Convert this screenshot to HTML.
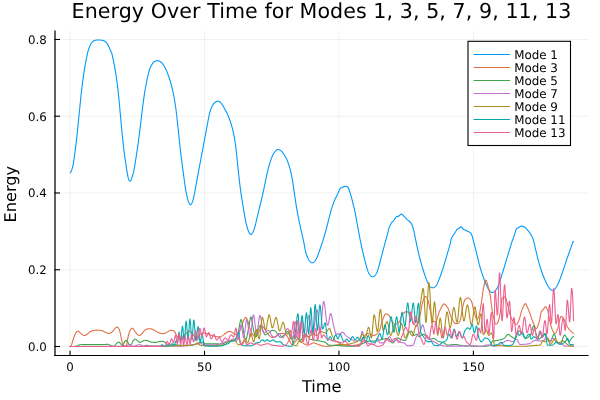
<!DOCTYPE html>
<html lang="en">
<head>
<meta charset="utf-8">
<title>Energy Over Time for Modes 1, 3, 5, 7, 9, 11, 13</title>
<style>
html,body{margin:0;padding:0;background:#fff;}
body{width:600px;height:400px;overflow:hidden;}
svg{display:block;}
text{font-family:"DejaVu Sans","Liberation Sans",sans-serif;fill:#000;text-rendering:geometricPrecision;}
.title{font-size:20.6px;letter-spacing:0.07px;}
.guide{font-size:16.2px;}
.tick{font-size:11.8px;}
.leg{font-size:11.9px;}
.grid line{stroke:#000;stroke-opacity:0.1;stroke-width:0.55;}
.axis line{stroke:#000;stroke-width:1.1;}
.series polyline{fill:none;stroke-width:1.1;stroke-linejoin:round;stroke-linecap:square;}
</style>
</head>
<body>
<svg width="600" height="400" viewBox="0 0 600 400" role="img" aria-label="Energy Over Time for Modes 1, 3, 5, 7, 9, 11, 13">
<rect x="0" y="0" width="600" height="400" fill="#ffffff"/>

<g class="grid">
<line x1="70.05" y1="30.5" x2="70.05" y2="355.5"/>
<line x1="204.50" y1="30.5" x2="204.50" y2="355.5"/>
<line x1="338.95" y1="30.5" x2="338.95" y2="355.5"/>
<line x1="473.40" y1="30.5" x2="473.40" y2="355.5"/>
<line x1="55" y1="346.50" x2="588.5" y2="346.50"/>
<line x1="55" y1="269.74" x2="588.5" y2="269.74"/>
<line x1="55" y1="192.98" x2="588.5" y2="192.98"/>
<line x1="55" y1="116.22" x2="588.5" y2="116.22"/>
<line x1="55" y1="39.46" x2="588.5" y2="39.46"/>
</g>
<g class="series">
<polyline stroke="#009AFA" points="70.40,172.80 70.80,172.17 71.20,171.34 71.60,170.35 72.00,169.20 72.40,167.89 72.80,166.30 73.20,164.32 73.60,161.97 74.00,159.41 74.40,156.64 74.80,153.70 75.20,150.60 75.60,147.43 76.00,144.12 76.40,140.64 76.80,137.08 77.20,133.42 77.60,129.62 78.00,125.63 78.41,121.60 78.81,117.56 79.21,113.52 79.61,109.51 80.01,105.51 80.41,101.52 80.81,97.55 81.21,93.75 81.61,90.20 82.01,86.82 82.41,83.58 82.81,80.49 83.21,77.56 83.61,74.78 84.01,72.11 84.41,69.57 84.81,67.17 85.21,64.89 85.61,62.72 86.01,60.66 86.41,58.69 86.81,56.76 87.21,54.87 87.61,53.08 88.01,51.42 88.41,49.97 88.81,48.74 89.21,47.65 89.61,46.64 90.01,45.66 90.41,44.76 90.81,43.98 91.21,43.32 91.61,42.74 92.01,42.24 92.41,41.83 92.81,41.48 93.21,41.17 93.61,40.89 94.02,40.68 94.42,40.53 94.82,40.40 95.22,40.28 95.62,40.18 96.02,40.12 96.42,40.07 96.82,40.04 97.22,40.01 97.62,39.99 98.02,39.97 98.42,39.97 98.82,39.97 99.22,39.98 99.62,40.00 100.02,40.03 100.42,40.06 100.82,40.10 101.22,40.14 101.62,40.19 102.02,40.25 102.42,40.34 102.82,40.44 103.22,40.55 103.62,40.68 104.02,40.84 104.42,41.05 104.82,41.30 105.22,41.58 105.62,41.88 106.02,42.24 106.42,42.67 106.82,43.17 107.22,43.74 107.62,44.36 108.02,45.04 108.42,45.80 108.82,46.64 109.23,47.54 109.63,48.45 110.03,49.35 110.43,50.24 110.83,51.12 111.23,52.00 111.63,52.91 112.03,54.16 112.43,55.92 112.83,57.85 113.23,59.71 113.63,61.59 114.03,63.55 114.43,65.62 114.83,67.84 115.23,70.16 115.63,72.56 116.03,75.09 116.43,77.80 116.83,80.68 117.23,83.71 117.63,86.91 118.03,90.35 118.43,94.07 118.83,98.11 119.23,102.29 119.63,106.53 120.03,110.82 120.43,115.16 120.83,119.56 121.23,123.99 121.63,128.36 122.03,132.59 122.43,136.60 122.83,140.41 123.23,144.08 123.63,147.58 124.03,150.89 124.43,154.02 124.84,157.00 125.24,159.86 125.64,162.64 126.04,165.37 126.44,168.01 126.84,170.54 127.24,172.94 127.64,175.23 128.04,177.20 128.44,178.72 128.84,179.89 129.24,180.75 129.64,181.22 130.04,181.28 130.44,181.04 130.84,180.43 131.24,179.49 131.64,178.43 132.04,177.26 132.44,176.00 132.84,174.66 133.24,173.28 133.64,171.70 134.04,169.72 134.44,167.46 134.84,165.07 135.24,162.64 135.64,160.19 136.04,157.70 136.44,155.15 136.84,152.52 137.24,149.81 137.64,147.02 138.04,144.16 138.44,141.23 138.84,138.20 139.24,135.06 139.64,131.81 140.04,128.53 140.45,125.22 140.85,121.89 141.25,118.52 141.65,115.15 142.05,111.81 142.45,108.56 142.85,105.43 143.25,102.38 143.65,99.41 144.05,96.60 144.45,93.93 144.85,91.39 145.25,88.99 145.65,86.73 146.05,84.56 146.45,82.49 146.85,80.54 147.25,78.69 147.65,76.89 148.05,75.14 148.45,73.48 148.85,71.92 149.25,70.50 149.65,69.25 150.05,68.17 150.45,67.23 150.85,66.40 151.25,65.63 151.65,64.92 152.05,64.27 152.45,63.69 152.85,63.17 153.25,62.70 153.65,62.27 154.05,61.90 154.45,61.60 154.85,61.35 155.25,61.14 155.66,60.97 156.06,60.84 156.46,60.75 156.86,60.69 157.26,60.67 157.66,60.70 158.06,60.75 158.46,60.84 158.86,60.95 159.26,61.10 159.66,61.29 160.06,61.50 160.46,61.74 160.86,62.03 161.26,62.35 161.66,62.71 162.06,63.12 162.46,63.57 162.86,64.06 163.26,64.60 163.66,65.19 164.06,65.83 164.46,66.51 164.86,67.24 165.26,68.02 165.66,68.85 166.06,69.71 166.46,70.61 166.86,71.56 167.26,72.55 167.66,73.57 168.06,74.63 168.46,75.73 168.86,76.86 169.26,78.04 169.66,79.26 170.06,80.53 170.46,81.86 170.86,83.24 171.27,84.67 171.67,86.20 172.07,87.80 172.47,89.45 172.87,91.22 173.27,93.11 173.67,95.09 174.07,97.24 174.47,99.55 174.87,101.99 175.27,104.54 175.67,107.27 176.07,110.23 176.47,113.51 176.87,116.99 177.27,120.57 177.67,124.25 178.07,127.99 178.47,131.82 178.87,135.68 179.27,139.52 179.67,143.27 180.07,146.92 180.47,150.47 180.87,153.91 181.27,157.24 181.67,160.48 182.07,163.63 182.47,166.68 182.87,169.65 183.27,172.61 183.67,175.57 184.07,178.52 184.47,181.46 184.87,184.38 185.27,187.21 185.67,189.64 186.07,191.77 186.47,193.80 186.88,195.74 187.28,197.52 187.68,199.15 188.08,200.56 188.48,201.75 188.88,202.75 189.28,203.57 189.68,204.18 190.08,204.55 190.48,204.68 190.88,204.54 191.28,204.16 191.68,203.53 192.08,202.67 192.48,201.65 192.88,200.45 193.28,199.03 193.68,197.46 194.08,195.74 194.48,193.75 194.88,191.50 195.28,189.21 195.68,186.98 196.08,184.77 196.48,182.57 196.88,180.39 197.28,178.22 197.68,176.06 198.08,173.92 198.48,171.78 198.88,169.64 199.28,167.51 199.68,165.38 200.08,163.25 200.48,161.12 200.88,158.99 201.28,156.86 201.68,154.73 202.09,152.59 202.49,150.46 202.89,148.32 203.29,146.17 203.69,144.03 204.09,141.89 204.49,139.74 204.89,137.60 205.29,135.46 205.69,133.32 206.09,131.19 206.49,129.06 206.89,126.93 207.29,124.82 207.69,122.72 208.09,120.61 208.49,118.54 208.89,116.49 209.29,114.59 209.69,112.93 210.09,111.48 210.49,110.21 210.89,109.08 211.29,108.06 211.69,107.12 212.09,106.26 212.49,105.47 212.89,104.76 213.29,104.15 213.69,103.65 214.09,103.24 214.49,102.86 214.89,102.52 215.29,102.20 215.69,101.93 216.09,101.70 216.49,101.51 216.89,101.36 217.29,101.24 217.70,101.17 218.10,101.16 218.50,101.21 218.90,101.33 219.30,101.52 219.70,101.79 220.10,102.12 220.50,102.52 220.90,102.94 221.30,103.40 221.70,103.90 222.10,104.45 222.50,105.06 222.90,105.71 223.30,106.38 223.70,107.07 224.10,107.77 224.50,108.49 224.90,109.21 225.30,109.95 225.70,110.71 226.10,111.47 226.50,112.25 226.90,113.04 227.30,113.86 227.70,114.70 228.10,115.58 228.50,116.54 228.90,117.56 229.30,118.62 229.70,119.71 230.10,120.83 230.50,122.02 230.90,123.27 231.30,124.57 231.70,125.92 232.10,127.39 232.50,128.94 232.90,130.56 233.31,132.31 233.71,134.22 234.11,136.23 234.51,138.45 234.91,140.91 235.31,143.64 235.71,146.63 236.11,149.86 236.51,153.32 236.91,156.98 237.31,160.86 237.71,164.88 238.11,168.89 238.51,172.73 238.91,176.42 239.31,180.00 239.71,183.43 240.11,186.66 240.51,189.72 240.91,192.61 241.31,195.33 241.71,197.93 242.11,200.50 242.51,203.01 242.91,205.45 243.31,207.80 243.71,210.13 244.11,212.45 244.51,214.76 244.91,217.05 245.31,219.30 245.71,221.38 246.11,223.16 246.51,224.77 246.91,226.31 247.31,227.75 247.71,229.09 248.11,230.32 248.52,231.40 248.92,232.32 249.32,233.11 249.72,233.71 250.12,234.12 250.52,234.35 250.92,234.42 251.32,234.34 251.72,234.10 252.12,233.67 252.52,233.05 252.92,232.25 253.32,231.33 253.72,230.29 254.12,229.15 254.52,227.92 254.92,226.65 255.32,225.27 255.72,223.74 256.12,222.00 256.52,220.15 256.92,218.35 257.32,216.69 257.72,215.04 258.12,213.41 258.52,211.79 258.92,210.19 259.32,208.59 259.72,206.98 260.12,205.36 260.52,203.72 260.92,202.07 261.32,200.40 261.72,198.69 262.12,196.95 262.52,195.17 262.92,193.37 263.32,191.52 263.72,189.62 264.13,187.69 264.53,185.76 264.93,183.80 265.33,181.83 265.73,179.86 266.13,177.93 266.53,176.04 266.93,174.18 267.33,172.38 267.73,170.69 268.13,169.06 268.53,167.49 268.93,166.01 269.33,164.62 269.73,163.30 270.13,162.06 270.53,160.88 270.93,159.74 271.33,158.65 271.73,157.59 272.13,156.56 272.53,155.58 272.93,154.70 273.33,153.96 273.73,153.33 274.13,152.78 274.53,152.28 274.93,151.80 275.33,151.34 275.73,150.87 276.13,150.43 276.53,150.04 276.93,149.73 277.33,149.54 277.73,149.47 278.13,149.49 278.53,149.57 278.93,149.69 279.33,149.81 279.74,149.95 280.14,150.14 280.54,150.37 280.94,150.68 281.34,151.04 281.74,151.45 282.14,151.90 282.54,152.40 282.94,152.94 283.34,153.50 283.74,154.09 284.14,154.70 284.54,155.32 284.94,155.97 285.34,156.65 285.74,157.36 286.14,158.11 286.54,158.90 286.94,159.75 287.34,160.71 287.74,161.76 288.14,162.87 288.54,164.04 288.94,165.24 289.34,166.54 289.74,167.91 290.14,169.35 290.54,170.87 290.94,172.55 291.34,174.39 291.74,176.36 292.14,178.47 292.54,180.78 292.94,183.35 293.34,186.08 293.74,188.83 294.14,191.59 294.54,194.32 294.95,197.04 295.35,199.75 295.75,202.44 296.15,205.10 296.55,207.61 296.95,209.94 297.35,212.16 297.75,214.30 298.15,216.39 298.55,218.38 298.95,220.33 299.35,222.24 299.75,224.09 300.15,225.91 300.55,227.72 300.95,229.50 301.35,231.27 301.75,233.03 302.15,234.81 302.55,236.60 302.95,238.41 303.35,240.23 303.75,242.15 304.15,244.14 304.55,246.26 304.95,248.71 305.35,250.73 305.75,252.28 306.15,253.57 306.55,254.70 306.95,255.74 307.35,256.76 307.75,257.76 308.15,258.68 308.55,259.50 308.95,260.19 309.35,260.78 309.75,261.28 310.15,261.70 310.56,262.06 310.96,262.36 311.36,262.59 311.76,262.74 312.16,262.80 312.56,262.77 312.96,262.64 313.36,262.44 313.76,262.16 314.16,261.79 314.56,261.36 314.96,260.86 315.36,260.31 315.76,259.70 316.16,259.06 316.56,258.40 316.96,257.66 317.36,256.79 317.76,255.75 318.16,254.63 318.56,253.49 318.96,252.34 319.36,251.17 319.76,250.00 320.16,248.83 320.56,247.66 320.96,246.48 321.36,245.30 321.76,244.10 322.16,242.88 322.56,241.63 322.96,240.37 323.36,239.08 323.76,237.78 324.16,236.45 324.56,235.08 324.96,233.69 325.36,232.27 325.76,230.82 326.17,229.34 326.57,227.82 326.97,226.27 327.37,224.71 327.77,223.14 328.17,221.57 328.57,219.99 328.97,218.40 329.37,216.82 329.77,215.27 330.17,213.77 330.57,212.31 330.97,210.87 331.37,209.48 331.77,208.16 332.17,206.90 332.57,205.69 332.97,204.53 333.37,203.40 333.77,202.33 334.17,201.30 334.57,200.34 334.97,199.44 335.37,198.59 335.77,197.78 336.17,196.99 336.57,196.21 336.97,195.42 337.37,194.62 337.77,193.77 338.17,192.83 338.57,191.83 338.97,190.85 339.37,189.97 339.77,189.25 340.17,188.72 340.57,188.33 340.97,188.04 341.38,187.81 341.78,187.61 342.18,187.41 342.58,187.23 342.98,187.05 343.38,186.88 343.78,186.73 344.18,186.59 344.58,186.46 344.98,186.34 345.38,186.27 345.78,186.30 346.18,186.42 346.58,186.60 346.98,186.78 347.38,186.95 347.78,187.17 348.18,187.57 348.58,188.26 348.98,189.29 349.38,190.49 349.78,191.79 350.18,193.08 350.58,194.37 350.98,195.70 351.38,197.11 351.78,198.62 352.18,200.19 352.58,201.82 352.98,203.47 353.38,205.12 353.78,206.73 354.18,208.36 354.58,210.07 354.98,211.93 355.38,213.98 355.78,216.15 356.18,218.36 356.58,220.57 356.99,222.78 357.39,224.98 357.79,227.17 358.19,229.36 358.59,231.51 358.99,233.63 359.39,235.72 359.79,237.77 360.19,239.78 360.59,241.75 360.99,243.68 361.39,245.57 361.79,247.42 362.19,249.23 362.59,251.00 362.99,252.73 363.39,254.43 363.79,256.09 364.19,257.72 364.59,259.31 364.99,260.87 365.39,262.42 365.79,263.96 366.19,265.45 366.59,266.91 366.99,268.33 367.39,269.67 367.79,270.85 368.19,271.89 368.59,272.80 368.99,273.60 369.39,274.29 369.79,274.88 370.19,275.37 370.59,275.77 370.99,276.10 371.39,276.38 371.79,276.59 372.19,276.74 372.60,276.80 373.00,276.76 373.40,276.64 373.80,276.44 374.20,276.18 374.60,275.87 375.00,275.49 375.40,275.03 375.80,274.48 376.20,273.81 376.60,273.02 377.00,272.11 377.40,271.08 377.80,269.93 378.20,268.66 378.60,267.29 379.00,265.90 379.40,264.47 379.80,262.99 380.20,261.47 380.60,259.95 381.00,258.42 381.40,256.89 381.80,255.34 382.20,253.79 382.60,252.24 383.00,250.71 383.40,249.18 383.80,247.66 384.20,246.15 384.60,244.67 385.00,243.18 385.40,241.70 385.80,240.21 386.20,238.73 386.60,237.25 387.00,235.76 387.40,234.28 387.81,232.75 388.21,231.15 388.61,229.57 389.01,228.08 389.41,226.90 389.81,225.98 390.21,225.19 390.61,224.43 391.01,223.71 391.41,223.05 391.81,222.46 392.21,221.96 392.61,221.56 393.01,221.21 393.41,220.85 393.81,220.42 394.21,219.87 394.61,219.25 395.01,218.62 395.41,218.04 395.81,217.51 396.21,217.04 396.61,216.64 397.01,216.31 397.41,216.28 397.81,216.52 398.21,216.58 398.61,216.28 399.01,215.90 399.41,215.49 399.81,215.12 400.21,214.78 400.61,214.41 401.01,214.11 401.41,213.99 401.81,214.14 402.21,214.45 402.61,214.84 403.01,215.27 403.42,215.70 403.82,216.13 404.22,216.56 404.62,216.99 405.02,217.41 405.42,217.83 405.82,218.24 406.22,218.64 406.62,219.03 407.02,219.42 407.42,219.77 407.82,220.09 408.22,220.39 408.62,220.70 409.02,221.03 409.42,221.39 409.82,221.78 410.22,222.20 410.62,222.63 411.02,223.11 411.42,223.76 411.82,224.56 412.22,225.48 412.62,226.51 413.02,227.71 413.42,229.16 413.82,230.90 414.22,232.75 414.62,234.63 415.02,236.55 415.42,238.49 415.82,240.44 416.22,242.37 416.62,244.28 417.02,246.17 417.42,248.03 417.82,249.86 418.22,251.62 418.62,253.33 419.03,255.01 419.43,256.64 419.83,258.22 420.23,259.76 420.63,261.25 421.03,262.72 421.43,264.14 421.83,265.53 422.23,266.88 422.63,268.20 423.03,269.49 423.43,270.77 423.83,272.03 424.23,273.26 424.63,274.47 425.03,275.66 425.43,276.82 425.83,277.97 426.23,279.07 426.63,280.11 427.03,281.10 427.43,282.04 427.83,282.96 428.23,283.79 428.63,284.54 429.03,285.21 429.43,285.80 429.83,286.31 430.23,286.74 430.63,287.09 431.03,287.36 431.43,287.56 431.83,287.71 432.23,287.79 432.63,287.82 433.03,287.78 433.43,287.68 433.83,287.53 434.24,287.34 434.64,287.11 435.04,286.83 435.44,286.48 435.84,286.06 436.24,285.54 436.64,284.92 437.04,284.21 437.44,283.41 437.84,282.54 438.24,281.60 438.64,280.62 439.04,279.63 439.44,278.61 439.84,277.57 440.24,276.49 440.64,275.37 441.04,274.22 441.44,273.06 441.84,271.87 442.24,270.66 442.64,269.42 443.04,268.15 443.44,266.86 443.84,265.57 444.24,264.26 444.64,262.93 445.04,261.59 445.44,260.24 445.84,258.89 446.24,257.54 446.64,256.17 447.04,254.81 447.44,253.44 447.84,252.06 448.24,250.69 448.64,249.31 449.04,247.93 449.44,246.53 449.85,245.13 450.25,243.70 450.65,241.73 451.05,239.66 451.45,238.33 451.85,237.55 452.25,236.86 452.65,236.23 453.05,235.64 453.45,235.05 453.85,234.46 454.25,233.88 454.65,233.29 455.05,232.70 455.45,232.06 455.85,231.30 456.25,230.53 456.65,229.82 457.05,229.27 457.45,228.94 457.85,228.77 458.25,228.66 458.65,228.54 459.05,228.33 459.45,228.00 459.85,227.62 460.25,227.25 460.65,226.95 461.05,226.80 461.45,226.95 461.85,227.41 462.25,228.04 462.65,228.66 463.05,229.15 463.45,229.38 463.85,229.53 464.25,229.68 464.65,229.83 465.05,229.98 465.46,230.15 465.86,230.34 466.26,230.54 466.66,230.74 467.06,230.94 467.46,231.14 467.86,231.34 468.26,231.54 468.66,231.75 469.06,231.96 469.46,232.17 469.86,232.39 470.26,232.62 470.66,232.98 471.06,233.52 471.46,234.25 471.86,235.20 472.26,236.40 472.66,237.84 473.06,239.40 473.46,240.98 473.86,242.54 474.26,244.05 474.66,245.53 475.06,247.02 475.46,248.57 475.86,250.21 476.26,251.90 476.66,253.62 477.06,255.32 477.46,257.00 477.86,258.67 478.26,260.33 478.66,261.97 479.06,263.55 479.46,265.05 479.86,266.50 480.26,267.90 480.67,269.27 481.07,270.59 481.47,271.87 481.87,273.11 482.27,274.30 482.67,275.45 483.07,276.58 483.47,277.68 483.87,278.76 484.27,279.83 484.67,280.89 485.07,281.93 485.47,282.95 485.87,283.94 486.27,284.89 486.67,285.81 487.07,286.68 487.47,287.46 487.87,288.16 488.27,288.78 488.67,289.36 489.07,289.91 489.47,290.42 489.87,290.89 490.27,291.32 490.67,291.71 491.07,292.04 491.47,292.31 491.87,292.48 492.27,292.55 492.67,292.52 493.07,292.40 493.47,292.22 493.87,291.99 494.27,291.71 494.67,291.40 495.07,291.04 495.47,290.64 495.87,290.18 496.28,289.66 496.68,289.07 497.08,288.37 497.48,287.56 497.88,286.63 498.28,285.64 498.68,284.60 499.08,283.51 499.48,282.36 499.88,281.18 500.28,279.98 500.68,278.77 501.08,277.54 501.48,276.27 501.88,274.96 502.28,273.64 502.68,272.31 503.08,270.98 503.48,269.64 503.88,268.29 504.28,266.94 504.68,265.59 505.08,264.25 505.48,262.91 505.88,261.58 506.28,260.26 506.68,258.95 507.08,257.65 507.48,256.35 507.88,255.06 508.28,253.77 508.68,252.49 509.08,251.20 509.48,249.92 509.88,248.63 510.28,247.35 510.68,246.04 511.08,244.70 511.48,243.34 511.89,242.01 512.29,240.76 512.69,239.68 513.09,238.69 513.49,237.69 513.89,236.59 514.29,235.33 514.69,233.95 515.09,232.57 515.49,231.27 515.89,230.02 516.29,228.98 516.69,228.39 517.09,228.17 517.49,228.06 517.89,227.97 518.29,227.79 518.69,227.55 519.09,227.30 519.49,227.05 519.89,226.81 520.29,226.56 520.69,226.33 521.09,226.12 521.49,225.97 521.89,225.93 522.29,226.12 522.69,226.43 523.09,226.71 523.49,226.85 523.89,226.87 524.29,226.88 524.69,227.02 525.09,227.37 525.49,227.79 525.89,228.23 526.29,228.68 526.69,229.13 527.10,229.58 527.50,230.03 527.90,230.49 528.30,230.95 528.70,231.44 529.10,231.96 529.50,232.51 529.90,233.07 530.30,233.64 530.70,234.27 531.10,234.95 531.50,235.65 531.90,236.36 532.30,237.11 532.70,237.98 533.10,239.09 533.50,240.49 533.90,242.06 534.30,243.72 534.70,245.42 535.10,247.12 535.50,248.82 535.90,250.52 536.30,252.20 536.70,253.88 537.10,255.54 537.50,257.19 537.90,258.81 538.30,260.37 538.70,261.87 539.10,263.31 539.50,264.73 539.90,266.10 540.30,267.42 540.70,268.70 541.10,269.92 541.50,271.10 541.90,272.25 542.30,273.36 542.71,274.45 543.11,275.49 543.51,276.51 543.91,277.49 544.31,278.43 544.71,279.35 545.11,280.25 545.51,281.13 545.91,281.99 546.31,282.82 546.71,283.64 547.11,284.44 547.51,285.20 547.91,285.93 548.31,286.61 548.71,287.26 549.11,287.86 549.51,288.39 549.91,288.86 550.31,289.27 550.71,289.62 551.11,289.91 551.51,290.11 551.91,290.24 552.31,290.30 552.71,290.29 553.11,290.22 553.51,290.08 553.91,289.85 554.31,289.54 554.71,289.14 555.11,288.68 555.51,288.17 555.91,287.60 556.31,286.99 556.71,286.35 557.11,285.66 557.51,284.91 557.91,284.09 558.32,283.24 558.72,282.35 559.12,281.42 559.52,280.45 559.92,279.43 560.32,278.37 560.72,277.30 561.12,276.21 561.52,275.09 561.92,273.95 562.32,272.77 562.72,271.56 563.12,270.35 563.52,269.14 563.92,267.93 564.32,266.73 564.72,265.53 565.12,264.32 565.52,263.12 565.92,261.92 566.32,260.73 566.72,259.55 567.12,258.39 567.52,257.24 567.92,256.10 568.32,254.97 568.72,253.84 569.12,252.71 569.52,251.60 569.92,250.48 570.32,249.37 570.72,248.24 571.12,247.09 571.52,245.92 571.92,244.75 572.32,243.60 572.72,242.50 573.12,241.81 573.52,241.43"/>
<polyline stroke="#E36F47" points="70.25,346.50 70.60,346.32 70.95,345.91 71.30,345.37 71.65,344.64 72.00,343.49 72.35,342.19 72.70,340.99 73.05,339.88 73.40,338.75 73.75,337.66 74.10,336.64 74.45,335.73 74.80,334.94 75.15,334.16 75.50,333.45 75.85,332.83 76.20,332.35 76.55,332.03 76.90,331.75 77.25,331.50 77.60,331.31 77.95,331.19 78.30,331.15 78.65,331.27 79.00,331.52 79.35,331.85 79.70,332.22 80.05,332.56 80.40,332.87 80.75,333.22 81.10,333.58 81.45,333.95 81.80,334.29 82.15,334.59 82.50,334.82 82.85,334.99 83.20,335.15 83.55,335.29 83.90,335.40 84.25,335.48 84.60,335.50 84.95,335.45 85.30,335.33 85.65,335.17 86.00,334.97 86.35,334.75 86.70,334.52 87.05,334.30 87.40,334.07 87.75,333.79 88.10,333.49 88.45,333.17 88.80,332.85 89.15,332.54 89.50,332.24 89.85,331.99 90.20,331.77 90.55,331.58 90.90,331.39 91.25,331.21 91.60,331.04 91.95,330.88 92.30,330.74 92.65,330.63 93.00,330.54 93.35,330.49 93.70,330.44 94.05,330.39 94.40,330.35 94.75,330.31 95.10,330.28 95.45,330.25 95.80,330.22 96.15,330.20 96.50,330.18 96.85,330.16 97.20,330.15 97.55,330.15 97.90,330.15 98.25,330.16 98.60,330.18 98.95,330.20 99.30,330.23 99.65,330.27 100.00,330.31 100.35,330.35 100.70,330.40 101.05,330.45 101.40,330.50 101.75,330.57 102.10,330.68 102.45,330.82 102.80,330.98 103.15,331.15 103.50,331.34 103.85,331.53 104.20,331.71 104.55,331.89 104.90,332.05 105.25,332.19 105.60,332.33 105.95,332.48 106.30,332.64 106.65,332.79 107.00,332.94 107.35,333.08 107.70,333.20 108.05,333.29 108.40,333.36 108.75,333.40 109.10,333.39 109.45,333.33 109.80,333.22 110.15,333.08 110.50,332.91 110.85,332.72 111.20,332.51 111.55,332.31 111.90,332.04 112.25,331.72 112.60,331.36 112.95,330.97 113.30,330.57 113.65,330.17 114.00,329.79 114.35,329.36 114.70,328.90 115.05,328.46 115.40,328.07 115.75,327.80 116.10,327.60 116.45,327.41 116.80,327.26 117.15,327.17 117.50,327.16 117.85,327.35 118.20,327.75 118.55,328.29 118.90,328.92 119.25,329.61 119.60,330.61 119.95,331.91 120.30,333.39 120.65,334.90 121.00,336.58 121.35,338.47 121.70,340.29 122.05,341.80 122.40,343.19 122.75,344.31 123.10,344.89 123.45,345.30 123.80,345.63 124.15,345.87 124.50,345.99 124.85,345.99 125.20,345.90 125.55,345.73 125.90,345.49 126.25,345.16 126.60,344.76 126.95,343.56 127.30,341.14 127.65,338.90 128.00,337.27 128.35,335.76 128.70,334.39 129.05,333.20 129.40,332.17 129.75,331.20 130.10,330.35 130.45,329.68 130.80,329.22 131.15,328.82 131.50,328.49 131.85,328.27 132.20,328.20 132.55,328.33 132.90,328.61 133.25,328.97 133.60,329.35 133.95,329.76 134.30,330.26 134.65,330.83 135.00,331.42 135.35,331.97 135.70,332.47 136.05,332.94 136.40,333.41 136.75,333.86 137.10,334.25 137.45,334.57 137.80,334.79 138.15,334.98 138.50,335.16 138.85,335.30 139.20,335.38 139.55,335.39 139.90,335.30 140.25,335.11 140.60,334.85 140.95,334.54 141.30,334.22 141.65,333.90 142.00,333.55 142.35,333.13 142.70,332.67 143.05,332.20 143.40,331.73 143.75,331.30 144.10,330.94 144.45,330.64 144.80,330.34 145.15,330.05 145.50,329.79 145.85,329.56 146.20,329.37 146.55,329.23 146.90,329.13 147.25,329.04 147.60,328.96 147.95,328.89 148.30,328.82 148.65,328.77 149.00,328.73 149.35,328.71 149.70,328.70 150.05,328.72 150.40,328.76 150.75,328.83 151.10,328.91 151.45,329.01 151.80,329.12 152.15,329.23 152.50,329.35 152.85,329.47 153.20,329.62 153.55,329.80 153.90,330.01 154.25,330.23 154.60,330.45 154.95,330.68 155.30,330.91 155.65,331.12 156.00,331.32 156.35,331.50 156.70,331.68 157.05,331.87 157.40,332.05 157.75,332.23 158.10,332.41 158.45,332.58 158.80,332.73 159.15,332.88 159.50,333.01 159.85,333.12 160.20,333.21 160.55,333.30 160.90,333.38 161.25,333.46 161.60,333.53 161.95,333.59 162.30,333.64 162.65,333.68 163.00,333.70 163.35,333.69 163.70,333.65 164.05,333.56 164.40,333.45 164.75,333.32 165.10,333.17 165.45,333.01 165.80,332.85 166.15,332.70 166.50,332.53 166.85,332.32 167.20,332.09 167.55,331.85 167.90,331.61 168.25,331.37 168.60,331.16 168.95,330.98 169.30,330.84 169.65,330.71 170.00,330.57 170.35,330.45 170.70,330.34 171.05,330.26 171.40,330.21 171.75,330.20 172.10,330.25 172.45,330.34 172.80,330.48 173.15,330.64 173.50,330.82 173.85,331.02 174.20,331.30 174.55,331.65 174.90,332.06 175.25,332.56 175.60,333.32 175.95,334.27 176.30,335.20 176.65,335.90 177.00,336.42 177.35,336.93 177.70,337.42 178.05,337.88 178.40,338.30 178.75,338.66 179.10,338.97 179.45,339.20 179.80,339.35 180.15,339.40 180.50,339.37 180.85,339.29 181.20,339.16 181.55,338.99 181.90,338.78 182.25,338.55 182.60,338.31 182.95,338.05 183.30,337.77 183.65,337.38 184.00,336.87 184.35,336.28 184.70,335.66 185.05,335.03 185.40,334.43 185.75,333.89 186.10,333.45 186.45,333.09 186.80,332.72 187.15,332.35 187.50,332.01 187.85,331.70 188.20,331.44 188.55,331.24 188.90,331.13 189.25,331.10 189.60,331.19 189.95,331.36 190.30,331.60 190.65,331.90 191.00,332.24 191.35,332.60 191.70,332.96 192.05,333.31 192.40,333.66 192.75,334.12 193.10,334.64 193.45,335.19 193.80,335.72 194.15,336.20 194.50,336.58 194.85,336.83 195.20,336.90 195.55,336.87 195.90,336.81 196.25,336.72 196.60,336.60 196.95,336.46 197.30,336.30 197.65,336.14 198.00,335.97 198.35,335.79 198.70,335.53 199.05,335.22 199.40,334.87 199.75,334.51 200.10,334.16 200.45,333.84 200.80,333.58 201.15,333.40 201.50,333.27 201.85,333.15 202.20,333.04 202.55,332.96 202.90,332.91 203.25,332.90 203.60,332.92 203.95,332.95 204.30,333.00 204.65,333.07 205.00,333.14 205.35,333.21 205.70,333.30 206.05,333.38 206.40,333.46 206.75,333.56 207.10,333.68 207.45,333.81 207.80,333.95 208.15,334.10 208.50,334.24 208.85,334.39 209.20,334.54 209.55,334.68 209.90,334.81 210.25,334.93 210.60,335.05 210.95,335.18 211.30,335.30 211.65,335.42 212.00,335.55 212.35,335.67 212.70,335.78 213.05,335.89 213.40,336.00 213.75,336.10 214.10,336.19 214.45,336.27 214.80,336.34 215.15,336.40 215.50,336.45 215.85,336.50 216.20,336.56 216.55,336.60 216.90,336.65 217.25,336.70 217.60,336.74 217.95,336.78 218.30,336.81 218.65,336.84 219.00,336.86 219.35,336.88 219.70,336.89 220.05,336.90 220.40,336.87 220.75,336.76 221.10,336.58 221.45,336.36 221.80,336.12 222.15,335.90 222.50,335.67 222.85,335.41 223.20,335.14 223.55,334.86 223.90,334.58 224.25,334.33 224.60,334.06 224.95,333.79 225.30,333.51 225.65,333.23 226.00,332.95 226.35,332.69 226.70,332.44 227.05,332.21 227.40,332.01 227.75,331.84 228.10,331.71 228.45,331.61 228.80,331.52 229.15,331.45 229.50,331.40 229.85,331.41 230.20,331.47 230.55,331.59 230.90,331.74 231.25,331.91 231.60,332.10 231.95,332.29 232.30,332.49 232.65,332.74 233.00,333.03 233.35,333.34 233.70,333.62 234.05,333.85 234.40,334.02 234.75,334.19 235.10,334.35 235.45,334.50 235.80,334.63 236.15,334.75 236.50,334.83 236.85,334.88 237.20,334.90 237.55,334.75 237.90,334.41 238.25,333.90 238.60,333.27 238.95,332.55 239.30,331.77 239.65,330.98 240.00,330.21 240.35,329.47 240.70,328.62 241.05,327.67 241.40,326.67 241.75,325.64 242.10,324.61 242.45,323.63 242.80,322.71 243.15,321.90 243.50,321.11 243.85,320.26 244.20,319.43 244.55,318.67 244.90,318.04 245.25,317.59 245.60,317.40 245.95,317.50 246.30,317.83 246.65,318.37 247.00,319.06 247.35,319.86 247.70,320.74 248.05,321.64 248.40,322.69 248.75,324.16 249.10,325.78 249.45,327.25 249.80,328.31 250.15,329.24 250.50,330.12 250.85,330.95 251.20,331.72 251.55,332.43 251.90,333.08 252.25,333.67 252.60,334.20 252.95,334.67 253.30,335.07 253.65,335.47 254.00,335.85 254.35,336.20 254.70,336.50 255.05,336.73 255.40,336.87 255.75,336.89 256.10,336.71 256.45,336.33 256.80,335.79 257.15,335.13 257.50,334.38 257.85,333.59 258.20,332.79 258.55,332.03 258.90,331.33 259.25,330.74 259.60,330.11 259.95,329.42 260.30,328.72 260.65,328.05 261.00,327.44 261.35,326.94 261.70,326.58 262.05,326.41 262.40,326.44 262.75,326.63 263.10,326.93 263.45,327.33 263.80,327.77 264.15,328.25 264.50,328.71 264.85,329.16 265.20,329.70 265.55,330.29 265.90,330.91 266.25,331.53 266.60,332.12 266.95,332.64 267.30,333.08 267.65,333.51 268.00,333.94 268.35,334.38 268.70,334.81 269.05,335.22 269.40,335.62 269.75,336.00 270.10,336.34 270.45,336.65 270.80,336.91 271.15,337.12 271.50,337.28 271.85,337.37 272.20,337.40 272.55,337.38 272.90,337.34 273.25,337.27 273.60,337.18 273.95,337.07 274.30,336.94 274.65,336.79 275.00,336.63 275.35,336.46 275.70,336.27 276.05,336.07 276.40,335.86 276.75,335.65 277.10,335.43 277.45,335.12 277.80,334.65 278.15,334.13 278.50,333.71 278.85,333.50 279.20,333.50 279.55,333.50 279.90,333.50 280.25,333.50 280.60,333.50 280.95,333.50 281.30,333.50 281.65,333.50 282.00,333.50 282.35,333.50 282.70,333.50 283.05,333.53 283.40,333.60 283.75,333.72 284.10,333.86 284.45,334.04 284.80,334.25 285.15,334.47 285.50,334.72 285.85,334.98 286.20,335.24 286.55,335.53 286.90,335.91 287.25,336.39 287.60,336.94 287.95,337.53 288.30,338.14 288.65,338.74 289.00,339.31 289.35,339.97 289.70,340.71 290.05,341.49 290.40,342.26 290.75,342.99 291.10,343.61 291.45,344.09 291.80,344.38 292.15,344.44 292.50,344.34 292.85,344.13 293.20,343.82 293.55,343.46 293.90,343.05 294.25,342.63 294.60,342.22 294.95,341.84 295.30,341.51 295.65,341.13 296.00,340.72 296.35,340.29 296.70,339.88 297.05,339.51 297.40,339.20 297.75,338.99 298.10,338.90 298.45,338.94 298.80,339.08 299.15,339.30 299.50,339.60 299.85,339.94 300.20,340.33 300.55,340.75 300.90,341.17 301.25,341.59 301.60,341.98 301.95,342.34 302.30,342.65 302.65,342.90 303.00,343.11 303.35,343.32 303.70,343.54 304.05,343.75 304.40,343.96 304.75,344.16 305.10,344.34 305.45,344.52 305.80,344.67 306.15,344.81 306.50,344.92 306.85,345.01 307.20,345.07 307.55,345.10 307.90,345.09 308.25,345.04 308.60,344.96 308.95,344.85 309.30,344.72 309.65,344.57 310.00,344.40 310.35,344.22 310.70,344.04 311.05,343.86 311.40,343.67 311.75,343.50 312.10,343.34 312.45,343.20 312.80,343.08 313.15,342.99 313.50,342.93 313.85,342.90 314.20,342.91 314.55,342.96 314.90,343.04 315.25,343.14 315.60,343.27 315.95,343.41 316.30,343.57 316.65,343.73 317.00,343.90 317.35,344.07 317.70,344.23 318.05,344.39 318.40,344.53 318.75,344.65 319.10,344.76 319.45,344.87 319.80,344.99 320.15,345.11 320.50,345.23 320.85,345.35 321.20,345.47 321.55,345.58 321.90,345.70 322.25,345.80 322.60,345.90 322.95,346.00 323.30,346.08 323.65,346.15 324.00,346.21 324.35,346.25 324.70,346.29 325.05,346.30 325.40,346.30 325.75,346.29 326.10,346.28 326.45,346.27 326.80,346.26 327.15,346.24 327.50,346.21 327.85,346.19 328.20,346.16 328.55,346.13 328.90,346.10 329.25,346.07 329.60,346.03 329.95,346.00 330.30,345.96 330.65,345.92 331.00,345.88 331.35,345.84 331.70,345.80 332.05,345.77 332.40,345.73 332.75,345.69 333.10,345.64 333.45,345.59 333.80,345.53 334.15,345.47 334.50,345.40 334.85,345.32 335.20,345.24 335.55,345.17 335.90,345.09 336.25,345.01 336.60,344.93 336.95,344.85 337.30,344.78 337.65,344.71 338.00,344.65 338.35,344.60 338.70,344.55 339.05,344.51 339.40,344.48 339.75,344.46 340.10,344.45 340.45,344.45 340.80,344.46 341.15,344.48 341.50,344.50 341.85,344.53 342.20,344.56 342.55,344.60 342.90,344.64 343.25,344.68 343.60,344.72 343.95,344.77 344.30,344.82 344.65,344.88 345.00,344.93 345.35,344.98 345.70,345.03 346.05,345.08 346.40,345.13 346.75,345.18 347.10,345.23 347.45,345.27 347.80,345.31 348.15,345.35 348.50,345.38 348.85,345.40 349.20,345.42 349.55,345.44 349.90,345.45 350.25,345.45 350.60,345.45 350.95,345.45 351.30,345.45 351.65,345.45 352.00,345.45 352.35,345.45 352.70,345.45 353.05,345.45 353.40,345.43 353.75,345.41 354.10,345.39 354.45,345.35 354.80,345.31 355.15,345.26 355.50,345.21 355.85,345.14 356.20,345.07 356.55,345.00 356.90,344.91 357.25,344.82 357.60,344.72 357.95,344.62 358.30,344.51 358.65,344.39 359.00,344.26 359.35,344.13 359.70,343.99 360.05,343.84 360.40,343.63 360.75,343.22 361.10,342.64 361.45,341.92 361.80,341.12 362.15,340.26 362.50,339.40 362.85,338.56 363.20,337.80 363.55,337.15 363.90,336.65 364.25,336.24 364.60,335.82 364.95,335.41 365.30,335.02 365.65,334.65 366.00,334.32 366.35,334.03 366.70,333.79 367.05,333.62 367.40,333.52 367.75,333.50 368.10,333.53 368.45,333.59 368.80,333.67 369.15,333.78 369.50,333.90 369.85,334.04 370.20,334.19 370.55,334.35 370.90,334.51 371.25,334.66 371.60,334.82 371.95,334.96 372.30,335.09 372.65,335.20 373.00,335.29 373.35,335.36 373.70,335.39 374.05,335.40 374.40,335.35 374.75,335.26 375.10,335.13 375.45,334.96 375.80,334.75 376.15,334.50 376.50,334.22 376.85,333.92 377.20,333.58 377.55,333.22 377.90,332.84 378.25,332.44 378.60,332.02 378.95,331.58 379.30,330.97 379.65,330.10 380.00,329.04 380.35,327.83 380.70,326.53 381.05,325.18 381.40,323.83 381.75,322.54 382.10,321.35 382.45,320.31 382.80,319.44 383.15,318.56 383.50,317.66 383.85,316.77 384.20,315.94 384.55,315.20 384.90,314.59 385.25,314.15 385.60,313.92 385.95,313.91 386.30,313.96 386.65,314.05 387.00,314.19 387.35,314.35 387.70,314.55 388.05,314.77 388.40,315.02 388.75,315.28 389.10,315.60 389.45,316.15 389.80,316.89 390.15,317.72 390.50,318.58 390.85,319.40 391.20,320.09 391.55,320.61 391.90,321.09 392.25,321.58 392.60,322.06 392.95,322.52 393.30,322.94 393.65,323.32 394.00,323.64 394.35,323.89 394.70,324.07 395.05,324.15 395.40,324.14 395.75,324.09 396.10,324.00 396.45,323.87 396.80,323.72 397.15,323.53 397.50,323.32 397.85,323.09 398.20,322.84 398.55,322.58 398.90,322.30 399.25,321.90 399.60,321.29 399.95,320.52 400.30,319.63 400.65,318.68 401.00,317.70 401.35,316.74 401.70,315.85 402.05,315.08 402.40,314.46 402.75,314.05 403.10,313.70 403.45,313.35 403.80,313.02 404.15,312.72 404.50,312.44 404.85,312.19 405.20,311.99 405.55,311.83 405.90,311.71 406.25,311.66 406.60,311.66 406.95,311.72 407.30,311.83 407.65,311.99 408.00,312.20 408.35,312.44 408.70,312.72 409.05,313.03 409.40,313.36 409.75,313.72 410.10,314.10 410.45,314.61 410.80,315.43 411.15,316.48 411.50,317.67 411.85,318.92 412.20,320.16 412.55,321.28 412.90,322.23 413.25,322.90 413.60,323.41 413.95,323.91 414.30,324.39 414.65,324.82 415.00,325.21 415.35,325.54 415.70,325.79 416.05,325.94 416.40,326.00 416.75,325.86 417.10,325.46 417.45,324.86 417.80,324.10 418.15,323.23 418.50,322.31 418.85,321.27 419.20,319.79 419.55,318.01 419.90,316.16 420.25,314.41 420.60,312.59 420.95,310.66 421.30,308.71 421.65,306.81 422.00,305.05 422.35,303.50 422.70,302.24 423.05,301.07 423.40,299.91 423.75,298.82 424.10,297.86 424.45,297.09 424.80,296.58 425.15,296.40 425.50,296.48 425.85,296.70 426.20,297.04 426.55,297.48 426.90,298.00 427.25,298.59 427.60,299.21 427.95,300.02 428.30,301.24 428.65,302.75 429.00,304.44 429.35,306.20 429.70,307.93 430.05,309.50 430.40,310.93 430.75,312.48 431.10,314.10 431.45,315.72 431.80,317.26 432.15,318.64 432.50,319.79 432.85,320.64 433.20,321.12 433.55,321.31 433.90,321.48 434.25,321.62 434.60,321.74 434.95,321.83 435.30,321.88 435.65,321.90 436.00,321.69 436.35,321.12 436.70,320.25 437.05,319.16 437.40,317.94 437.75,316.65 438.10,315.37 438.45,314.18 438.80,313.15 439.15,312.29 439.50,311.44 439.85,310.61 440.20,309.80 440.55,309.02 440.90,308.28 441.25,307.60 441.60,306.98 441.95,306.38 442.30,305.75 442.65,305.14 443.00,304.60 443.35,304.18 443.70,303.94 444.05,303.91 444.40,304.00 444.75,304.18 445.10,304.43 445.45,304.75 445.80,305.13 446.15,305.55 446.50,306.01 446.85,306.50 447.20,307.00 447.55,307.51 447.90,308.06 448.25,308.78 448.60,309.64 448.95,310.61 449.30,311.64 449.65,312.71 450.00,313.79 450.35,314.83 450.70,315.80 451.05,316.67 451.40,317.40 451.75,318.07 452.10,318.75 452.45,319.44 452.80,320.13 453.15,320.79 453.50,321.41 453.85,321.99 454.20,322.50 454.55,322.93 454.90,323.28 455.25,323.52 455.60,323.64 455.95,323.65 456.30,323.63 456.65,323.59 457.00,323.53 457.35,323.47 457.70,323.39 458.05,323.23 458.40,322.98 458.75,322.62 459.10,322.17 459.45,321.65 459.80,321.06 460.15,320.40 460.50,319.37 460.85,317.77 461.20,315.78 461.55,313.58 461.90,311.37 462.25,309.31 462.60,307.61 462.95,306.17 463.30,304.72 463.65,303.29 464.00,301.98 464.35,300.84 464.70,299.96 465.05,299.39 465.40,299.11 465.75,298.87 466.10,298.66 466.45,298.47 466.80,298.31 467.15,298.18 467.50,298.09 467.85,298.03 468.20,298.00 468.55,298.04 468.90,298.17 469.25,298.40 469.60,298.70 469.95,299.07 470.30,299.50 470.65,299.99 471.00,300.51 471.35,301.07 471.70,301.83 472.05,303.01 472.40,304.50 472.75,306.15 473.10,307.85 473.45,309.44 473.80,310.82 474.15,311.97 474.50,313.17 474.85,314.39 475.20,315.59 475.55,316.70 475.90,317.68 476.25,318.47 476.60,319.02 476.95,319.29 477.30,319.22 477.65,318.85 478.00,318.28 478.35,317.56 478.70,316.78 479.05,315.71 479.40,314.24 479.75,312.45 480.10,310.44 480.45,308.29 480.80,306.08 481.15,303.90 481.50,301.80 481.85,299.53 482.20,297.06 482.55,294.51 482.90,292.00 483.25,289.66 483.60,287.60 483.95,285.94 484.30,284.38 484.65,282.86 485.00,281.54 485.35,280.58 485.70,280.16 486.05,280.34 486.40,280.96 486.75,281.90 487.10,283.03 487.45,284.23 487.80,285.45 488.15,286.98 488.50,288.37 488.85,289.63 489.20,290.87 489.55,292.18 489.90,293.67 490.25,295.46 490.60,297.92 490.95,300.90 491.30,304.05 491.65,307.06 492.00,309.60 492.35,311.61 492.70,313.46 493.05,315.15 493.40,316.69 493.75,318.09 494.10,319.41 494.45,320.81 494.80,322.16 495.15,323.27 495.50,323.98 495.85,324.15 496.20,324.06 496.55,323.89 496.90,323.63 497.25,323.32 497.60,322.95 497.95,322.42 498.30,321.50 498.65,320.26 499.00,318.77 499.35,317.10 499.70,315.29 500.05,313.43 500.40,311.25 500.75,308.18 501.10,304.75 501.45,301.57 501.80,299.23 502.15,298.25 502.50,297.76 502.85,297.36 503.20,297.06 503.55,296.87 503.90,296.80 504.25,296.88 504.60,297.09 504.95,297.41 505.30,297.81 505.65,298.26 506.00,298.86 506.35,299.85 506.70,301.10 507.05,302.51 507.40,303.94 507.75,305.27 508.10,306.68 508.45,308.18 508.80,309.72 509.15,311.24 509.50,312.67 509.85,313.96 510.20,315.04 510.55,316.02 510.90,316.95 511.25,317.84 511.60,318.67 511.95,319.44 512.30,320.14 512.65,320.77 513.00,321.31 513.35,321.78 513.70,322.21 514.05,322.65 514.40,323.06 514.75,323.44 515.10,323.77 515.45,324.05 515.80,324.25 516.15,324.37 516.50,324.39 516.85,324.20 517.20,323.82 517.55,323.27 517.90,322.60 518.25,321.85 518.60,321.07 518.95,320.29 519.30,319.34 519.65,318.16 520.00,316.84 520.35,315.45 520.70,314.07 521.05,312.78 521.40,311.65 521.75,310.63 522.10,309.62 522.45,308.64 522.80,307.72 523.15,306.87 523.50,306.12 523.85,305.48 524.20,304.91 524.55,304.35 524.90,303.89 525.25,303.63 525.60,303.66 525.95,304.03 526.30,304.65 526.65,305.44 527.00,306.32 527.35,307.20 527.70,308.01 528.05,308.80 528.40,309.63 528.75,310.49 529.10,311.39 529.45,312.30 529.80,313.22 530.15,314.15 530.50,315.11 530.85,316.13 531.20,317.18 531.55,318.25 531.90,319.31 532.25,320.33 532.60,321.31 532.95,322.21 533.30,323.01 533.65,323.81 534.00,324.65 534.35,325.49 534.70,326.29 535.05,327.02 535.40,327.64 535.75,328.12 536.10,328.41 536.45,328.50 536.80,328.28 537.15,327.76 537.50,327.01 537.85,326.09 538.20,325.06 538.55,323.97 538.90,322.90 539.25,321.61 539.60,319.94 539.95,318.05 540.30,316.12 540.65,314.32 541.00,312.81 541.35,311.75 541.70,311.12 542.05,310.62 542.40,310.21 542.75,309.83 543.10,309.46 543.45,309.04 543.80,308.58 544.15,308.11 544.50,307.67 544.85,307.29 545.20,307.00 545.55,306.83 545.90,306.83 546.25,307.16 546.60,307.75 546.95,308.54 547.30,309.45 547.65,310.40 548.00,311.61 548.35,313.24 548.70,315.15 549.05,317.21 549.40,319.25 549.75,321.13 550.10,322.71 550.45,324.01 550.80,325.25 551.15,326.43 551.50,327.53 551.85,328.53 552.20,329.43 552.55,330.20 552.90,330.89 553.25,331.58 553.60,332.24 553.95,332.81 554.30,333.26 554.65,333.54 555.00,333.59 555.35,333.43 555.70,333.07 556.05,332.56 556.40,331.91 556.75,331.15 557.10,330.31 557.45,329.42 557.80,328.43 558.15,326.89 558.50,325.02 558.85,323.17 559.20,321.72 559.55,320.43 559.90,319.13 560.25,317.96 560.60,317.03 560.95,316.49 561.30,316.41 561.65,316.53 562.00,316.76 562.35,317.06 562.70,317.41 563.05,317.79 563.40,318.23 563.75,318.83 564.10,319.56 564.45,320.36 564.80,321.15 565.15,321.90 565.50,322.62 565.85,323.37 566.20,324.13 566.55,324.88 566.90,325.62 567.25,326.33 567.60,326.99 567.95,327.59 568.30,328.12 568.65,328.60 569.00,329.06 569.35,329.49 569.70,329.90 570.05,330.28 570.40,330.65 570.75,331.01 571.10,331.35 571.45,331.69 571.80,332.01 572.15,332.31 572.50,332.61 572.85,332.89 573.20,333.15 573.55,333.40"/>
<polyline stroke="#3EA44E" points="70.25,346.50 70.60,346.50 70.95,346.50 71.30,346.49 71.65,346.49 72.00,346.48 72.35,346.47 72.70,346.46 73.05,346.45 73.40,346.43 73.75,346.42 74.10,346.40 74.45,346.38 74.80,346.35 75.15,346.31 75.50,346.26 75.85,346.20 76.20,346.14 76.55,346.07 76.90,345.96 77.25,345.82 77.60,345.66 77.95,345.49 78.30,345.31 78.65,345.14 79.00,344.98 79.35,344.85 79.70,344.75 80.05,344.70 80.40,344.69 80.75,344.69 81.10,344.68 81.45,344.67 81.80,344.67 82.15,344.66 82.50,344.65 82.85,344.65 83.20,344.64 83.55,344.64 83.90,344.64 84.25,344.63 84.60,344.63 84.95,344.62 85.30,344.62 85.65,344.62 86.00,344.61 86.35,344.61 86.70,344.61 87.05,344.61 87.40,344.61 87.75,344.60 88.10,344.60 88.45,344.60 88.80,344.60 89.15,344.60 89.50,344.60 89.85,344.60 90.20,344.60 90.55,344.60 90.90,344.60 91.25,344.60 91.60,344.60 91.95,344.60 92.30,344.60 92.65,344.60 93.00,344.60 93.35,344.60 93.70,344.60 94.05,344.60 94.40,344.60 94.75,344.60 95.10,344.60 95.45,344.60 95.80,344.60 96.15,344.60 96.50,344.60 96.85,344.60 97.20,344.60 97.55,344.60 97.90,344.60 98.25,344.60 98.60,344.60 98.95,344.60 99.30,344.60 99.65,344.60 100.00,344.60 100.35,344.60 100.70,344.60 101.05,344.60 101.40,344.60 101.75,344.60 102.10,344.60 102.45,344.60 102.80,344.60 103.15,344.59 103.50,344.58 103.85,344.56 104.20,344.54 104.55,344.52 104.90,344.49 105.25,344.47 105.60,344.44 105.95,344.41 106.30,344.38 106.65,344.36 107.00,344.34 107.35,344.32 107.70,344.31 108.05,344.30 108.40,344.31 108.75,344.41 109.10,344.59 109.45,344.83 109.80,345.08 110.15,345.31 110.50,345.51 110.85,345.63 111.20,345.73 111.55,345.82 111.90,345.91 112.25,346.00 112.60,346.07 112.95,346.13 113.30,346.17 113.65,346.19 114.00,346.19 114.35,346.00 114.70,345.67 115.05,345.30 115.40,344.94 115.75,344.51 116.10,344.04 116.45,343.59 116.80,343.19 117.15,342.90 117.50,342.68 117.85,342.46 118.20,342.28 118.55,342.16 118.90,342.10 119.25,342.19 119.60,342.47 119.95,342.87 120.30,343.31 120.65,343.70 121.00,344.09 121.35,344.55 121.70,345.00 122.05,345.39 122.40,345.64 122.75,345.67 123.10,345.13 123.45,344.18 123.80,343.16 124.15,342.40 124.50,341.86 124.85,341.34 125.20,340.88 125.55,340.55 125.90,340.40 126.25,340.47 126.60,340.72 126.95,341.07 127.30,341.48 127.65,341.90 128.00,342.44 128.35,343.17 128.70,343.94 129.05,344.63 129.40,345.09 129.75,345.20 130.10,345.14 130.45,345.03 130.80,344.88 131.15,344.70 131.50,344.32 131.85,343.65 132.20,342.84 132.55,342.00 132.90,341.27 133.25,340.78 133.60,340.36 133.95,339.96 134.30,339.62 134.65,339.36 135.00,339.22 135.35,339.22 135.70,339.35 136.05,339.56 136.40,339.82 136.75,340.10 137.10,340.37 137.45,340.64 137.80,340.98 138.15,341.35 138.50,341.71 138.85,342.04 139.20,342.27 139.55,342.39 139.90,342.38 140.25,342.30 140.60,342.17 140.95,342.00 141.30,341.82 141.65,341.63 142.00,341.46 142.35,341.32 142.70,341.15 143.05,340.96 143.40,340.78 143.75,340.60 144.10,340.44 144.45,340.32 144.80,340.23 145.15,340.20 145.50,340.22 145.85,340.26 146.20,340.33 146.55,340.41 146.90,340.51 147.25,340.62 147.60,340.73 147.95,340.84 148.30,340.95 148.65,341.08 149.00,341.24 149.35,341.41 149.70,341.59 150.05,341.75 150.40,341.90 150.75,342.02 151.10,342.09 151.45,342.14 151.80,342.18 152.15,342.22 152.50,342.26 152.85,342.29 153.20,342.32 153.55,342.34 153.90,342.37 154.25,342.38 154.60,342.39 154.95,342.40 155.30,342.40 155.65,342.38 156.00,342.34 156.35,342.29 156.70,342.23 157.05,342.16 157.40,342.08 157.75,342.00 158.10,341.92 158.45,341.84 158.80,341.76 159.15,341.70 159.50,341.63 159.85,341.56 160.20,341.48 160.55,341.41 160.90,341.34 161.25,341.28 161.60,341.23 161.95,341.20 162.30,341.21 162.65,341.25 163.00,341.35 163.35,341.47 163.70,341.62 164.05,341.79 164.40,341.97 164.75,342.15 165.10,342.41 165.45,342.72 165.80,343.08 166.15,343.44 166.50,343.77 166.85,344.04 167.20,344.22 167.55,344.36 167.90,344.49 168.25,344.62 168.60,344.74 168.95,344.84 169.30,344.94 169.65,345.02 170.00,345.09 170.35,345.15 170.70,345.18 171.05,345.20 171.40,345.19 171.75,345.17 172.10,345.13 172.45,345.08 172.80,345.01 173.15,344.95 173.50,344.89 173.85,344.82 174.20,344.77 174.55,344.73 174.90,344.71 175.25,344.70 175.60,344.71 175.95,344.73 176.30,344.77 176.65,344.81 177.00,344.85 177.35,344.91 177.70,344.96 178.05,345.01 178.40,345.06 178.75,345.10 179.10,345.14 179.45,345.17 179.80,345.19 180.15,345.20 180.50,345.20 180.85,345.20 181.20,345.20 181.55,345.20 181.90,345.20 182.25,345.20 182.60,345.20 182.95,345.20 183.30,345.20 183.65,345.20 184.00,345.20 184.35,345.20 184.70,345.20 185.05,345.20 185.40,345.20 185.75,345.20 186.10,345.20 186.45,345.20 186.80,345.20 187.15,345.20 187.50,345.20 187.85,345.20 188.20,345.20 188.55,345.20 188.90,345.20 189.25,345.20 189.60,345.20 189.95,345.20 190.30,345.20 190.65,345.19 191.00,345.17 191.35,345.13 191.70,345.09 192.05,345.04 192.40,344.98 192.75,344.92 193.10,344.84 193.45,344.76 193.80,344.68 194.15,344.58 194.50,344.49 194.85,344.39 195.20,344.29 195.55,344.19 195.90,344.08 196.25,343.97 196.60,343.87 196.95,343.76 197.30,343.65 197.65,343.51 198.00,343.34 198.35,343.16 198.70,342.97 199.05,342.79 199.40,342.63 199.75,342.50 200.10,342.41 200.45,342.35 200.80,342.30 201.15,342.25 201.50,342.21 201.85,342.17 202.20,342.14 202.55,342.12 202.90,342.10 203.25,342.11 203.60,342.31 203.95,342.66 204.30,343.08 204.65,343.45 205.00,343.67 205.35,343.70 205.70,343.70 206.05,343.70 206.40,343.70 206.75,343.70 207.10,343.70 207.45,343.70 207.80,343.70 208.15,343.70 208.50,343.70 208.85,343.70 209.20,343.70 209.55,343.70 209.90,343.70 210.25,343.70 210.60,343.70 210.95,343.70 211.30,343.70 211.65,343.70 212.00,343.70 212.35,343.70 212.70,343.70 213.05,343.70 213.40,343.70 213.75,343.70 214.10,343.70 214.45,343.70 214.80,343.70 215.15,343.70 215.50,343.70 215.85,343.72 216.20,343.73 216.55,343.76 216.90,343.78 217.25,343.81 217.60,343.85 217.95,343.88 218.30,343.91 218.65,343.94 219.00,343.96 219.35,343.98 219.70,343.99 220.05,344.00 220.40,344.00 220.75,343.97 221.10,343.93 221.45,343.88 221.80,343.81 222.15,343.73 222.50,343.63 222.85,343.53 223.20,343.42 223.55,343.30 223.90,343.18 224.25,343.06 224.60,342.93 224.95,342.81 225.30,342.68 225.65,342.56 226.00,342.45 226.35,342.34 226.70,342.22 227.05,342.09 227.40,341.96 227.75,341.83 228.10,341.69 228.45,341.55 228.80,341.41 229.15,341.27 229.50,341.14 229.85,341.01 230.20,340.88 230.55,340.77 230.90,340.66 231.25,340.55 231.60,340.45 231.95,340.34 232.30,340.23 232.65,340.10 233.00,339.96 233.35,339.81 233.70,339.65 234.05,339.48 234.40,339.30 234.75,339.09 235.10,338.86 235.45,338.58 235.80,338.27 236.15,337.90 236.50,337.34 236.85,336.47 237.20,335.38 237.55,334.13 237.90,332.79 238.25,331.41 238.60,330.08 238.95,328.64 239.30,326.85 239.65,324.90 240.00,322.98 240.35,321.31 240.70,320.06 241.05,319.44 241.40,319.65 241.75,320.73 242.10,322.45 242.45,324.59 242.80,326.91 243.15,329.18 243.50,331.18 243.85,332.84 244.20,334.66 244.55,336.51 244.90,338.15 245.25,339.35 245.60,339.89 245.95,339.68 246.30,338.94 246.65,337.76 247.00,336.26 247.35,334.53 247.70,332.69 248.05,330.83 248.40,329.05 248.75,327.44 249.10,325.53 249.45,323.35 249.80,321.14 250.15,319.17 250.50,317.69 250.85,316.94 251.20,317.19 251.55,318.41 251.90,320.30 252.25,322.56 252.60,324.88 252.95,326.95 253.30,328.55 253.65,330.18 254.00,331.87 254.35,333.49 254.70,334.93 255.05,336.05 255.40,336.74 255.75,336.88 256.10,336.47 256.45,335.64 256.80,334.53 257.15,333.26 257.50,331.96 257.85,330.76 258.20,329.77 258.55,328.80 258.90,327.75 259.25,326.76 259.60,325.96 259.95,325.48 260.30,325.43 260.65,325.72 261.00,326.25 261.35,326.95 261.70,327.75 262.05,328.59 262.40,329.39 262.75,330.10 263.10,330.90 263.45,331.81 263.80,332.74 264.15,333.59 264.50,334.30 264.85,334.76 265.20,334.90 265.55,334.85 265.90,334.74 266.25,334.58 266.60,334.38 266.95,334.14 267.30,333.89 267.65,333.62 268.00,333.35 268.35,333.10 268.70,332.87 269.05,332.61 269.40,332.31 269.75,331.99 270.10,331.65 270.45,331.33 270.80,331.03 271.15,330.77 271.50,330.56 271.85,330.44 272.20,330.40 272.55,330.41 272.90,330.44 273.25,330.49 273.60,330.56 273.95,330.64 274.30,330.73 274.65,330.83 275.00,330.95 275.35,331.10 275.70,331.39 276.05,331.80 276.40,332.29 276.75,332.83 277.10,333.37 277.45,333.88 277.80,334.35 278.15,334.88 278.50,335.46 278.85,336.04 279.20,336.56 279.55,336.98 279.90,337.24 280.25,337.30 280.60,337.26 280.95,337.17 281.30,337.04 281.65,336.87 282.00,336.68 282.35,336.46 282.70,336.23 283.05,335.99 283.40,335.74 283.75,335.50 284.10,335.25 284.45,334.91 284.80,334.51 285.15,334.05 285.50,333.58 285.85,333.11 286.20,332.67 286.55,332.28 286.90,331.96 287.25,331.74 287.60,331.65 287.95,331.79 288.30,332.25 288.65,332.97 289.00,333.87 289.35,334.88 289.70,335.92 290.05,336.93 290.40,337.83 290.75,338.55 291.10,339.01 291.45,339.15 291.80,339.03 292.15,338.76 292.50,338.37 292.85,337.90 293.20,337.39 293.55,336.87 293.90,336.37 294.25,335.94 294.60,335.62 294.95,335.43 295.30,335.41 295.65,335.54 296.00,335.78 296.35,336.13 296.70,336.54 297.05,337.02 297.40,337.53 297.75,338.05 298.10,338.57 298.45,339.06 298.80,339.50 299.15,339.88 299.50,340.17 299.85,340.35 300.20,340.40 300.55,340.29 300.90,340.02 301.25,339.63 301.60,339.13 301.95,338.55 302.30,337.93 302.65,337.27 303.00,336.62 303.35,336.00 303.70,335.42 304.05,334.92 304.40,334.53 304.75,334.26 305.10,334.15 305.45,334.20 305.80,334.36 306.15,334.62 306.50,334.96 306.85,335.36 307.20,335.81 307.55,336.30 307.90,336.79 308.25,337.28 308.60,337.75 308.95,338.19 309.30,338.57 309.65,338.87 310.00,339.09 310.35,339.22 310.70,339.32 311.05,339.42 311.40,339.51 311.75,339.59 312.10,339.67 312.45,339.74 312.80,339.80 313.15,339.86 313.50,339.92 313.85,339.97 314.20,340.02 314.55,340.08 314.90,340.13 315.25,340.19 315.60,340.25 315.95,340.31 316.30,340.38 316.65,340.45 317.00,340.52 317.35,340.59 317.70,340.65 318.05,340.71 318.40,340.77 318.75,340.83 319.10,340.89 319.45,340.95 319.80,341.01 320.15,341.07 320.50,341.13 320.85,341.19 321.20,341.26 321.55,341.33 321.90,341.40 322.25,341.48 322.60,341.55 322.95,341.64 323.30,341.73 323.65,341.82 324.00,341.92 324.35,342.03 324.70,342.14 325.05,342.26 325.40,342.41 325.75,342.64 326.10,342.92 326.45,343.25 326.80,343.60 327.15,343.95 327.50,344.29 327.85,344.59 328.20,344.84 328.55,345.02 328.90,345.10 329.25,345.13 329.60,345.15 329.95,345.18 330.30,345.20 330.65,345.22 331.00,345.24 331.35,345.25 331.70,345.27 332.05,345.28 332.40,345.29 332.75,345.30 333.10,345.31 333.45,345.32 333.80,345.33 334.15,345.34 334.50,345.35 334.85,345.35 335.20,345.36 335.55,345.37 335.90,345.38 336.25,345.39 336.60,345.41 336.95,345.42 337.30,345.43 337.65,345.45 338.00,345.47 338.35,345.49 338.70,345.51 339.05,345.53 339.40,345.56 339.75,345.59 340.10,345.61 340.45,345.64 340.80,345.67 341.15,345.70 341.50,345.73 341.85,345.77 342.20,345.80 342.55,345.83 342.90,345.86 343.25,345.89 343.60,345.93 343.95,345.96 344.30,345.99 344.65,346.02 345.00,346.05 345.35,346.08 345.70,346.10 346.05,346.13 346.40,346.16 346.75,346.18 347.10,346.20 347.45,346.22 347.80,346.24 348.15,346.26 348.50,346.27 348.85,346.28 349.20,346.29 349.55,346.30 349.90,346.30 350.25,346.30 350.60,346.30 350.95,346.29 351.30,346.28 351.65,346.27 352.00,346.26 352.35,346.24 352.70,346.22 353.05,346.20 353.40,346.17 353.75,346.14 354.10,346.11 354.45,346.08 354.80,346.05 355.15,346.01 355.50,345.97 355.85,345.93 356.20,345.89 356.55,345.85 356.90,345.80 357.25,345.75 357.60,345.71 357.95,345.65 358.30,345.57 358.65,345.46 359.00,345.33 359.35,345.19 359.70,345.03 360.05,344.86 360.40,344.68 360.75,344.49 361.10,344.30 361.45,344.10 361.80,343.91 362.15,343.72 362.50,343.53 362.85,343.35 363.20,343.19 363.55,343.04 363.90,342.90 364.25,342.77 364.60,342.63 364.95,342.49 365.30,342.35 365.65,342.21 366.00,342.07 366.35,341.92 366.70,341.79 367.05,341.66 367.40,341.53 367.75,341.42 368.10,341.32 368.45,341.22 368.80,341.14 369.15,341.08 369.50,341.04 369.85,341.01 370.20,341.00 370.55,341.00 370.90,341.00 371.25,341.00 371.60,341.00 371.95,341.00 372.30,341.00 372.65,341.00 373.00,341.00 373.35,341.00 373.70,341.00 374.05,341.00 374.40,341.00 374.75,341.00 375.10,341.00 375.45,341.00 375.80,341.00 376.15,341.00 376.50,341.00 376.85,340.98 377.20,340.93 377.55,340.87 377.90,340.78 378.25,340.68 378.60,340.56 378.95,340.44 379.30,340.30 379.65,340.16 380.00,340.02 380.35,339.88 380.70,339.74 381.05,339.61 381.40,339.48 381.75,339.37 382.10,339.27 382.45,339.19 382.80,339.12 383.15,339.06 383.50,339.00 383.85,338.93 384.20,338.87 384.55,338.81 384.90,338.75 385.25,338.70 385.60,338.65 385.95,338.61 386.30,338.57 386.65,338.54 387.00,338.52 387.35,338.50 387.70,338.50 388.05,338.58 388.40,338.77 388.75,339.05 389.10,339.40 389.45,339.80 389.80,340.24 390.15,340.70 390.50,341.16 390.85,341.60 391.20,342.00 391.55,342.35 391.90,342.63 392.25,342.82 392.60,342.90 392.95,342.85 393.30,342.67 393.65,342.38 394.00,342.00 394.35,341.56 394.70,341.07 395.05,340.55 395.40,340.03 395.75,339.52 396.10,339.04 396.45,338.63 396.80,338.28 397.15,338.04 397.50,337.91 397.85,337.91 398.20,337.99 398.55,338.14 398.90,338.33 399.25,338.55 399.60,338.79 399.95,339.03 400.30,339.27 400.65,339.49 401.00,339.66 401.35,339.79 401.70,339.87 402.05,339.96 402.40,340.04 402.75,340.11 403.10,340.18 403.45,340.24 403.80,340.30 404.15,340.34 404.50,340.37 404.85,340.39 405.20,340.40 405.55,340.20 405.90,339.75 406.25,339.09 406.60,338.27 406.95,337.36 407.30,336.39 407.65,335.44 408.00,334.54 408.35,333.76 408.70,333.15 409.05,332.74 409.40,332.36 409.75,331.99 410.10,331.66 410.45,331.38 410.80,331.16 411.15,331.03 411.50,331.02 411.85,331.38 412.20,332.06 412.55,332.94 412.90,333.85 413.25,334.66 413.60,335.23 413.95,335.40 414.30,335.34 414.65,335.22 415.00,335.05 415.35,334.85 415.70,334.64 416.05,334.45 416.40,334.29 416.75,334.18 417.10,334.16 417.45,334.45 417.80,335.05 418.15,335.75 418.50,336.35 418.85,336.64 419.20,336.62 419.55,336.50 419.90,336.31 420.25,336.08 420.60,335.80 420.95,335.51 421.30,335.21 421.65,334.92 422.00,334.65 422.35,334.43 422.70,334.26 423.05,334.17 423.40,334.16 423.75,334.27 424.10,334.48 424.45,334.76 424.80,335.09 425.15,335.45 425.50,335.82 425.85,336.18 426.20,336.49 426.55,336.76 426.90,337.04 427.25,337.35 427.60,337.66 427.95,337.97 428.30,338.26 428.65,338.53 429.00,338.77 429.35,338.95 429.70,339.09 430.05,339.15 430.40,339.14 430.75,339.11 431.10,339.05 431.45,338.97 431.80,338.88 432.15,338.79 432.50,338.70 432.85,338.62 433.20,338.56 433.55,338.52 433.90,338.50 434.25,338.55 434.60,338.68 434.95,338.89 435.30,339.14 435.65,339.44 436.00,339.75 436.35,340.07 436.70,340.37 437.05,340.65 437.40,340.87 437.75,341.04 438.10,341.18 438.45,341.31 438.80,341.43 439.15,341.54 439.50,341.64 439.85,341.73 440.20,341.82 440.55,341.91 440.90,342.00 441.25,342.08 441.60,342.17 441.95,342.26 442.30,342.36 442.65,342.46 443.00,342.57 443.35,342.69 443.70,342.82 444.05,342.97 444.40,343.16 444.75,343.40 445.10,343.66 445.45,343.94 445.80,344.21 446.15,344.47 446.50,344.71 446.85,344.90 447.20,345.03 447.55,345.10 447.90,345.10 448.25,345.09 448.60,345.07 448.95,345.05 449.30,345.02 449.65,344.99 450.00,344.95 450.35,344.91 450.70,344.86 451.05,344.82 451.40,344.78 451.75,344.73 452.10,344.69 452.45,344.64 452.80,344.60 453.15,344.56 453.50,344.53 453.85,344.50 454.20,344.48 454.55,344.46 454.90,344.45 455.25,344.45 455.60,344.46 455.95,344.48 456.30,344.52 456.65,344.56 457.00,344.62 457.35,344.68 457.70,344.74 458.05,344.82 458.40,344.89 458.75,344.97 459.10,345.05 459.45,345.13 459.80,345.22 460.15,345.30 460.50,345.37 460.85,345.44 461.20,345.51 461.55,345.57 461.90,345.62 462.25,345.66 462.60,345.70 462.95,345.72 463.30,345.75 463.65,345.77 464.00,345.79 464.35,345.81 464.70,345.83 465.05,345.85 465.40,345.87 465.75,345.89 466.10,345.90 466.45,345.92 466.80,345.94 467.15,345.95 467.50,345.97 467.85,345.98 468.20,345.99 468.55,346.01 468.90,346.02 469.25,346.03 469.60,346.04 469.95,346.05 470.30,346.07 470.65,346.08 471.00,346.09 471.35,346.10 471.70,346.11 472.05,346.12 472.40,346.13 472.75,346.14 473.10,346.15 473.45,346.16 473.80,346.18 474.15,346.19 474.50,346.20 474.85,346.21 475.20,346.22 475.55,346.23 475.90,346.24 476.25,346.25 476.60,346.25 476.95,346.26 477.30,346.27 477.65,346.28 478.00,346.28 478.35,346.29 478.70,346.29 479.05,346.29 479.40,346.30 479.75,346.30 480.10,346.30 480.45,346.30 480.80,346.30 481.15,346.30 481.50,346.30 481.85,346.30 482.20,346.30 482.55,346.30 482.90,346.30 483.25,346.30 483.60,346.30 483.95,346.30 484.30,346.30 484.65,346.30 485.00,346.30 485.35,346.30 485.70,346.28 486.05,346.26 486.40,346.22 486.75,346.17 487.10,346.11 487.45,346.03 487.80,345.95 488.15,345.85 488.50,345.74 488.85,345.63 489.20,345.50 489.55,345.36 489.90,345.21 490.25,345.04 490.60,344.63 490.95,343.98 491.30,343.21 491.65,342.42 492.00,341.72 492.35,341.21 492.70,340.99 493.05,340.91 493.40,340.85 493.75,340.79 494.10,340.75 494.45,340.71 494.80,340.68 495.15,340.65 495.50,340.63 495.85,340.60 496.20,340.57 496.55,340.54 496.90,340.50 497.25,340.46 497.60,340.41 497.95,340.35 498.30,340.28 498.65,340.21 499.00,340.14 499.35,340.06 499.70,339.98 500.05,339.89 500.40,339.80 500.75,339.70 501.10,339.59 501.45,339.48 501.80,339.36 502.15,339.23 502.50,339.10 502.85,338.96 503.20,338.82 503.55,338.66 503.90,338.50 504.25,338.28 504.60,337.98 504.95,337.61 505.30,337.19 505.65,336.75 506.00,336.29 506.35,335.84 506.70,335.42 507.05,335.05 507.40,334.75 507.75,334.53 508.10,334.41 508.45,334.42 508.80,334.54 509.15,334.74 509.50,335.01 509.85,335.32 510.20,335.65 510.55,335.98 510.90,336.29 511.25,336.56 511.60,336.77 511.95,336.99 512.30,337.22 512.65,337.46 513.00,337.68 513.35,337.89 513.70,338.09 514.05,338.25 514.40,338.38 514.75,338.46 515.10,338.50 515.45,338.36 515.80,337.90 516.15,337.18 516.50,336.28 516.85,335.27 517.20,334.23 517.55,333.22 517.90,332.32 518.25,331.60 518.60,331.14 518.95,331.00 519.30,331.06 519.65,331.19 520.00,331.39 520.35,331.65 520.70,331.96 521.05,332.31 521.40,332.69 521.75,333.09 522.10,333.50 522.45,333.92 522.80,334.35 523.15,334.97 523.50,335.75 523.85,336.57 524.20,337.35 524.55,338.00 524.90,338.40 525.25,338.50 525.60,338.47 525.95,338.40 526.30,338.29 526.65,338.16 527.00,337.99 527.35,337.79 527.70,337.56 528.05,337.31 528.40,337.04 528.75,336.74 529.10,336.43 529.45,336.10 529.80,335.76 530.15,335.40 530.50,334.86 530.85,334.03 531.20,332.97 531.55,331.77 531.90,330.50 532.25,329.23 532.60,328.05 532.95,327.02 533.30,326.24 533.65,325.76 534.00,325.70 534.35,326.50 534.70,328.01 535.05,329.84 535.40,331.60 535.75,332.90 536.10,333.86 536.45,334.84 536.80,335.79 537.15,336.68 537.50,337.48 537.85,338.16 538.20,338.69 538.55,339.03 538.90,339.15 539.25,339.08 539.60,338.90 539.95,338.62 540.30,338.26 540.65,337.85 541.00,337.40 541.35,336.93 541.70,336.47 542.05,336.03 542.40,335.64 542.75,335.31 543.10,334.96 543.45,334.59 543.80,334.22 544.15,333.89 544.50,333.62 544.85,333.45 545.20,333.41 545.55,333.76 545.90,334.52 546.25,335.52 546.60,336.57 546.95,337.50 547.30,338.16 547.65,338.79 548.00,339.43 548.35,340.04 548.70,340.62 549.05,341.12 549.40,341.51 549.75,341.78 550.10,341.90 550.45,341.77 550.80,341.35 551.15,340.68 551.50,339.83 551.85,338.87 552.20,337.85 552.55,336.85 552.90,335.91 553.25,335.11 553.60,334.50 553.95,334.16 554.30,334.16 554.65,334.69 555.00,335.65 555.35,336.87 555.70,338.17 556.05,339.41 556.40,340.42 556.75,341.04 557.10,341.54 557.45,342.02 557.80,342.48 558.15,342.90 558.50,343.28 558.85,343.61 559.20,343.87 559.55,344.06 559.90,344.18 560.25,344.19 560.60,343.95 560.95,343.44 561.30,342.72 561.65,341.84 562.00,340.85 562.35,339.80 562.70,338.75 563.05,337.73 563.40,336.82 563.75,336.05 564.10,335.47 564.45,335.15 564.80,335.13 565.15,335.37 565.50,335.83 565.85,336.43 566.20,337.12 566.55,337.83 566.90,338.49 567.25,339.06 567.60,339.70 567.95,340.39 568.30,341.05 568.65,341.57 569.00,341.87 569.35,341.84 569.70,341.48 570.05,340.90 570.40,340.21 570.75,339.53 571.10,338.96 571.45,338.53 571.80,338.12 572.15,337.73 572.50,337.36 572.85,337.01 573.20,336.69 573.55,336.40"/>
<polyline stroke="#C371D2" points="70.25,346.50 70.60,346.50 70.95,346.50 71.30,346.50 71.65,346.50 72.00,346.50 72.35,346.50 72.70,346.50 73.05,346.50 73.40,346.50 73.75,346.50 74.10,346.50 74.45,346.50 74.80,346.50 75.15,346.50 75.50,346.50 75.85,346.50 76.20,346.50 76.55,346.50 76.90,346.50 77.25,346.50 77.60,346.50 77.95,346.50 78.30,346.50 78.65,346.50 79.00,346.49 79.35,346.49 79.70,346.49 80.05,346.49 80.40,346.49 80.75,346.49 81.10,346.49 81.45,346.49 81.80,346.49 82.15,346.49 82.50,346.49 82.85,346.49 83.20,346.49 83.55,346.49 83.90,346.49 84.25,346.49 84.60,346.49 84.95,346.49 85.30,346.48 85.65,346.48 86.00,346.48 86.35,346.48 86.70,346.48 87.05,346.48 87.40,346.48 87.75,346.48 88.10,346.48 88.45,346.48 88.80,346.48 89.15,346.48 89.50,346.48 89.85,346.47 90.20,346.47 90.55,346.47 90.90,346.47 91.25,346.47 91.60,346.47 91.95,346.47 92.30,346.47 92.65,346.47 93.00,346.47 93.35,346.46 93.70,346.46 94.05,346.46 94.40,346.46 94.75,346.46 95.10,346.46 95.45,346.46 95.80,346.46 96.15,346.46 96.50,346.45 96.85,346.45 97.20,346.45 97.55,346.45 97.90,346.45 98.25,346.45 98.60,346.45 98.95,346.45 99.30,346.45 99.65,346.44 100.00,346.44 100.35,346.44 100.70,346.44 101.05,346.44 101.40,346.44 101.75,346.44 102.10,346.43 102.45,346.43 102.80,346.43 103.15,346.43 103.50,346.43 103.85,346.43 104.20,346.43 104.55,346.42 104.90,346.42 105.25,346.42 105.60,346.42 105.95,346.42 106.30,346.42 106.65,346.42 107.00,346.41 107.35,346.41 107.70,346.41 108.05,346.41 108.40,346.41 108.75,346.41 109.10,346.40 109.45,346.40 109.80,346.40 110.15,346.40 110.50,346.40 110.85,346.40 111.20,346.40 111.55,346.39 111.90,346.39 112.25,346.39 112.60,346.39 112.95,346.39 113.30,346.38 113.65,346.38 114.00,346.38 114.35,346.38 114.70,346.38 115.05,346.37 115.40,346.37 115.75,346.37 116.10,346.36 116.45,346.36 116.80,346.36 117.15,346.35 117.50,346.35 117.85,346.35 118.20,346.34 118.55,346.34 118.90,346.33 119.25,346.33 119.60,346.32 119.95,346.32 120.30,346.31 120.65,346.31 121.00,346.30 121.35,346.29 121.70,346.29 122.05,346.28 122.40,346.27 122.75,346.26 123.10,346.26 123.45,346.25 123.80,346.24 124.15,346.23 124.50,346.22 124.85,346.21 125.20,346.20 125.55,346.15 125.90,346.06 126.25,345.93 126.60,345.76 126.95,345.58 127.30,345.39 127.65,345.19 128.00,345.01 128.35,344.84 128.70,344.69 129.05,344.58 129.40,344.51 129.75,344.50 130.10,344.58 130.45,344.73 130.80,344.93 131.15,345.17 131.50,345.42 131.85,345.67 132.20,345.89 132.55,346.07 132.90,346.18 133.25,346.20 133.60,346.17 133.95,346.12 134.30,346.05 134.65,345.95 135.00,345.85 135.35,345.73 135.70,345.62 136.05,345.50 136.40,345.39 136.75,345.29 137.10,345.21 137.45,345.14 137.80,345.06 138.15,344.98 138.50,344.91 138.85,344.84 139.20,344.78 139.55,344.73 139.90,344.71 140.25,344.70 140.60,344.79 140.95,344.96 141.30,345.19 141.65,345.45 142.00,345.71 142.35,345.94 142.70,346.11 143.05,346.20 143.40,346.18 143.75,346.10 144.10,345.96 144.45,345.80 144.80,345.63 145.15,345.46 145.50,345.32 145.85,345.23 146.20,345.20 146.55,345.23 146.90,345.29 147.25,345.39 147.60,345.50 147.95,345.63 148.30,345.76 148.65,345.88 149.00,346.00 149.35,346.10 149.70,346.16 150.05,346.20 150.40,346.20 150.75,346.20 151.10,346.20 151.45,346.20 151.80,346.20 152.15,346.20 152.50,346.20 152.85,346.20 153.20,346.20 153.55,346.20 153.90,346.20 154.25,346.20 154.60,346.20 154.95,346.20 155.30,346.20 155.65,346.20 156.00,346.20 156.35,346.20 156.70,346.20 157.05,346.20 157.40,346.20 157.75,346.20 158.10,346.20 158.45,346.20 158.80,346.20 159.15,346.20 159.50,346.20 159.85,346.20 160.20,346.20 160.55,346.20 160.90,346.19 161.25,346.18 161.60,346.17 161.95,346.16 162.30,346.14 162.65,346.12 163.00,346.10 163.35,346.08 163.70,346.06 164.05,346.03 164.40,346.01 164.75,345.98 165.10,345.95 165.45,345.93 165.80,345.90 166.15,345.88 166.50,345.85 166.85,345.83 167.20,345.80 167.55,345.78 167.90,345.76 168.25,345.75 168.60,345.73 168.95,345.72 169.30,345.71 169.65,345.70 170.00,345.70 170.35,345.70 170.70,345.71 171.05,345.72 171.40,345.74 171.75,345.77 172.10,345.79 172.45,345.83 172.80,345.86 173.15,345.90 173.50,345.93 173.85,345.97 174.20,346.01 174.55,346.04 174.90,346.08 175.25,346.11 175.60,346.14 175.95,346.16 176.30,346.18 176.65,346.19 177.00,346.20 177.35,346.20 177.70,346.20 178.05,346.19 178.40,346.18 178.75,346.18 179.10,346.16 179.45,346.15 179.80,346.13 180.15,346.12 180.50,346.10 180.85,346.08 181.20,346.06 181.55,346.03 181.90,346.01 182.25,345.98 182.60,345.95 182.95,345.92 183.30,345.89 183.65,345.86 184.00,345.83 184.35,345.80 184.70,345.76 185.05,345.73 185.40,345.69 185.75,345.66 186.10,345.62 186.45,345.58 186.80,345.55 187.15,345.51 187.50,345.47 187.85,345.44 188.20,345.40 188.55,345.36 188.90,345.33 189.25,345.29 189.60,345.26 189.95,345.22 190.30,345.18 190.65,345.15 191.00,345.10 191.35,345.06 191.70,345.01 192.05,344.95 192.40,344.90 192.75,344.84 193.10,344.78 193.45,344.72 193.80,344.65 194.15,344.59 194.50,344.52 194.85,344.46 195.20,344.40 195.55,344.33 195.90,344.27 196.25,344.21 196.60,344.15 196.95,344.09 197.30,344.04 197.65,343.98 198.00,343.93 198.35,343.89 198.70,343.85 199.05,343.81 199.40,343.78 199.75,343.75 200.10,343.73 200.45,343.71 200.80,343.70 201.15,343.70 201.50,343.72 201.85,343.78 202.20,343.87 202.55,343.98 202.90,344.11 203.25,344.24 203.60,344.37 203.95,344.48 204.30,344.58 204.65,344.66 205.00,344.70 205.35,344.70 205.70,344.70 206.05,344.70 206.40,344.70 206.75,344.70 207.10,344.70 207.45,344.70 207.80,344.70 208.15,344.70 208.50,344.70 208.85,344.70 209.20,344.70 209.55,344.70 209.90,344.70 210.25,344.70 210.60,344.70 210.95,344.70 211.30,344.70 211.65,344.70 212.00,344.70 212.35,344.70 212.70,344.70 213.05,344.70 213.40,344.70 213.75,344.70 214.10,344.70 214.45,344.70 214.80,344.70 215.15,344.70 215.50,344.69 215.85,344.68 216.20,344.65 216.55,344.62 216.90,344.57 217.25,344.52 217.60,344.46 217.95,344.39 218.30,344.31 218.65,344.22 219.00,344.13 219.35,344.04 219.70,343.94 220.05,343.83 220.40,343.72 220.75,343.61 221.10,343.49 221.45,343.37 221.80,343.25 222.15,343.12 222.50,343.00 222.85,342.87 223.20,342.74 223.55,342.62 223.90,342.49 224.25,342.36 224.60,342.21 224.95,342.02 225.30,341.82 225.65,341.61 226.00,341.40 226.35,341.21 226.70,341.05 227.05,340.93 227.40,340.84 227.75,340.78 228.10,340.72 228.45,340.68 228.80,340.63 229.15,340.59 229.50,340.53 229.85,340.47 230.20,340.39 230.55,340.25 230.90,340.06 231.25,339.83 231.60,339.59 231.95,339.36 232.30,339.15 232.65,338.99 233.00,338.91 233.35,338.93 233.70,339.08 234.05,339.33 234.40,339.65 234.75,340.00 235.10,340.34 235.45,340.62 235.80,340.82 236.15,340.90 236.50,340.75 236.85,340.33 237.20,339.70 237.55,338.90 237.90,337.99 238.25,337.02 238.60,336.04 238.95,334.82 239.30,333.08 239.65,331.04 240.00,328.96 240.35,327.08 240.70,325.66 241.05,324.94 241.40,325.26 241.75,326.79 242.10,329.10 242.45,331.79 242.80,334.41 243.15,336.55 243.50,337.77 243.85,337.67 244.20,336.31 244.55,334.01 244.90,331.13 245.25,328.00 245.60,324.97 245.95,322.38 246.30,320.58 246.65,319.90 247.00,320.38 247.35,321.67 247.70,323.57 248.05,325.88 248.40,328.40 248.75,330.92 249.10,333.23 249.45,335.13 249.80,336.42 250.15,336.90 250.50,336.20 250.85,334.33 251.20,331.59 251.55,328.30 251.90,324.79 252.25,321.37 252.60,318.36 252.95,316.07 253.30,314.83 253.65,314.92 254.00,316.21 254.35,318.40 254.70,321.20 255.05,324.30 255.40,327.40 255.75,330.20 256.10,332.39 256.45,333.68 256.80,333.79 257.15,332.75 257.50,330.85 257.85,328.34 258.20,325.49 258.55,322.56 258.90,319.83 259.25,317.54 259.60,315.98 259.95,315.40 260.30,315.84 260.65,317.04 261.00,318.83 261.35,321.02 261.70,323.44 262.05,325.91 262.40,328.26 262.75,330.30 263.10,331.85 263.45,332.75 263.80,332.89 264.15,332.81 264.50,332.67 264.85,332.46 265.20,332.21 265.55,331.94 265.90,331.65 266.25,331.36 266.60,331.09 266.95,330.84 267.30,330.63 267.65,330.49 268.00,330.41 268.35,330.43 268.70,330.60 269.05,330.91 269.40,331.34 269.75,331.86 270.10,332.45 270.45,333.08 270.80,333.74 271.15,334.39 271.50,335.01 271.85,335.59 272.20,336.09 272.55,336.50 272.90,336.78 273.25,336.93 273.60,337.04 273.95,337.13 274.30,337.21 274.65,337.27 275.00,337.30 275.35,337.27 275.70,337.08 276.05,336.75 276.40,336.31 276.75,335.82 277.10,335.29 277.45,334.77 277.80,334.29 278.15,333.90 278.50,333.62 278.85,333.50 279.20,333.58 279.55,333.85 279.90,334.27 280.25,334.80 280.60,335.39 280.95,336.01 281.30,336.60 281.65,337.13 282.00,337.55 282.35,337.82 282.70,337.90 283.05,337.73 283.40,337.33 283.75,336.74 284.10,335.99 284.45,335.12 284.80,334.18 285.15,333.20 285.50,332.22 285.85,331.28 286.20,330.41 286.55,329.66 286.90,329.07 287.25,328.67 287.60,328.50 287.95,328.67 288.30,329.22 288.65,330.06 289.00,331.06 289.35,332.12 289.70,333.12 290.05,333.96 290.40,334.62 290.75,335.32 291.10,336.02 291.45,336.68 291.80,337.24 292.15,337.65 292.50,337.88 292.85,337.60 293.20,335.89 293.55,333.10 293.90,329.77 294.25,326.45 294.60,323.66 294.95,321.95 295.30,321.73 295.65,322.49 296.00,323.91 296.35,325.80 296.70,327.97 297.05,330.25 297.40,332.45 297.75,334.39 298.10,335.89 298.45,336.76 298.80,336.81 299.15,335.96 299.50,334.38 299.85,332.28 300.20,329.85 300.55,327.31 300.90,324.86 301.25,322.69 301.60,321.03 301.95,320.06 302.30,319.99 302.65,320.84 303.00,322.42 303.35,324.52 303.70,326.95 304.05,329.49 304.40,331.94 304.75,334.11 305.10,335.77 305.45,336.74 305.80,336.77 306.15,335.53 306.50,333.26 306.85,330.27 307.20,326.89 307.55,323.45 307.90,320.25 308.25,317.64 308.60,315.92 308.95,315.41 309.30,316.03 309.65,317.48 310.00,319.55 310.35,322.06 310.70,324.80 311.05,327.58 311.40,330.21 311.75,332.50 312.10,334.24 312.45,335.24 312.80,335.31 313.15,334.48 313.50,332.90 313.85,330.73 314.20,328.11 314.55,325.20 314.90,322.16 315.25,319.15 315.60,316.31 315.95,313.80 316.30,311.78 316.65,310.40 317.00,309.81 317.35,310.37 317.70,312.28 318.05,315.15 318.40,318.62 318.75,322.31 319.10,325.83 319.45,328.81 319.80,330.88 320.15,331.65 320.50,330.80 320.85,328.50 321.20,325.12 321.55,321.00 321.90,316.52 322.25,312.05 322.60,307.93 322.95,304.55 323.30,302.25 323.65,301.40 324.00,301.92 324.35,303.35 324.70,305.49 325.05,308.16 325.40,311.16 325.75,314.30 326.10,317.38 326.45,320.22 326.80,322.61 327.15,324.37 327.50,325.30 327.85,325.26 328.20,324.41 328.55,322.97 328.90,321.16 329.25,319.16 329.60,317.20 329.95,315.47 330.30,314.18 330.65,313.54 331.00,313.69 331.35,314.53 331.70,315.88 332.05,317.61 332.40,319.55 332.75,321.55 333.10,323.46 333.45,325.12 333.80,326.44 334.15,327.80 334.50,329.21 334.85,330.58 335.20,331.85 335.55,332.91 335.90,333.69 336.25,334.11 336.60,334.15 336.95,334.15 337.30,334.15 337.65,334.15 338.00,334.15 338.35,334.15 338.70,334.15 339.05,334.14 339.40,334.06 339.75,333.91 340.10,333.70 340.45,333.46 340.80,333.21 341.15,332.95 341.50,332.72 341.85,332.52 342.20,332.37 342.55,332.30 342.90,332.34 343.25,332.51 343.60,332.80 343.95,333.18 344.30,333.62 344.65,334.09 345.00,334.57 345.35,335.04 345.70,335.46 346.05,335.82 346.40,336.10 346.75,336.36 347.10,336.61 347.45,336.86 347.80,337.09 348.15,337.32 348.50,337.53 348.85,337.75 349.20,337.95 349.55,338.16 349.90,338.36 350.25,338.56 350.60,338.77 350.95,338.99 351.30,339.22 351.65,339.46 352.00,339.69 352.35,339.92 352.70,340.14 353.05,340.34 353.40,340.52 353.75,340.68 354.10,340.81 354.45,340.91 354.80,340.98 355.15,341.00 355.50,340.99 355.85,340.97 356.20,340.92 356.55,340.86 356.90,340.78 357.25,340.68 357.60,340.57 357.95,340.43 358.30,340.28 358.65,340.11 359.00,339.91 359.35,339.70 359.70,339.47 360.05,339.22 360.40,338.70 360.75,337.38 361.10,335.61 361.45,333.77 361.80,332.26 362.15,331.45 362.50,331.66 362.85,332.76 363.20,334.42 363.55,336.33 363.90,338.19 364.25,339.67 364.60,340.47 364.95,340.92 365.30,341.31 365.65,341.65 366.00,341.95 366.35,342.21 366.70,342.43 367.05,342.63 367.40,342.79 367.75,342.94 368.10,343.08 368.45,343.22 368.80,343.35 369.15,343.47 369.50,343.60 369.85,343.71 370.20,343.82 370.55,343.93 370.90,344.02 371.25,344.11 371.60,344.19 371.95,344.26 372.30,344.32 372.65,344.37 373.00,344.41 373.35,344.43 373.70,344.45 374.05,344.42 374.40,344.13 374.75,343.59 375.10,342.87 375.45,342.02 375.80,341.11 376.15,340.21 376.50,339.37 376.85,338.67 377.20,338.16 377.55,337.91 377.90,338.14 378.25,339.08 378.60,340.40 378.95,341.72 379.30,342.66 379.65,342.90 380.00,342.90 380.35,342.90 380.70,342.90 381.05,342.90 381.40,342.90 381.75,342.90 382.10,342.90 382.45,342.90 382.80,342.89 383.15,342.83 383.50,342.70 383.85,342.52 384.20,342.30 384.55,342.03 384.90,341.75 385.25,341.44 385.60,341.12 385.95,340.80 386.30,340.49 386.65,340.15 387.00,339.70 387.35,339.18 387.70,338.62 388.05,338.07 388.40,337.55 388.75,337.12 389.10,336.81 389.45,336.66 389.80,336.74 390.15,337.14 390.50,337.77 390.85,338.55 391.20,339.39 391.55,340.21 391.90,340.91 392.25,341.42 392.60,341.65 392.95,341.60 393.30,341.45 393.65,341.21 394.00,340.91 394.35,340.57 394.70,340.23 395.05,339.89 395.40,339.59 395.75,339.35 396.10,339.20 396.45,339.15 396.80,339.24 397.15,339.45 397.50,339.74 397.85,340.11 398.20,340.51 398.55,340.93 398.90,341.33 399.25,341.70 399.60,342.01 399.95,342.23 400.30,342.34 400.65,342.41 401.00,342.48 401.35,342.53 401.70,342.57 402.05,342.61 402.40,342.64 402.75,342.69 403.10,342.74 403.45,342.80 403.80,342.87 404.15,342.99 404.50,343.20 404.85,343.49 405.20,343.82 405.55,344.19 405.90,344.55 406.25,344.91 406.60,345.22 406.95,345.47 407.30,345.64 407.65,345.70 408.00,345.70 408.35,345.70 408.70,345.69 409.05,345.68 409.40,345.67 409.75,345.66 410.10,345.64 410.45,345.62 410.80,345.60 411.15,345.58 411.50,345.55 411.85,345.53 412.20,345.49 412.55,345.46 412.90,345.34 413.25,344.94 413.60,344.29 413.95,343.45 414.30,342.48 414.65,341.41 415.00,340.32 415.35,339.24 415.70,338.23 416.05,337.35 416.40,336.65 416.75,336.09 417.10,335.60 417.45,335.16 417.80,334.75 418.15,334.35 418.50,333.96 418.85,333.55 419.20,333.12 419.55,332.63 419.90,332.09 420.25,331.45 420.60,330.51 420.95,329.32 421.30,328.02 421.65,326.77 422.00,325.72 422.35,325.01 422.70,324.81 423.05,325.22 423.40,326.16 423.75,327.45 424.10,328.94 424.45,330.45 424.80,331.83 425.15,332.90 425.50,333.76 425.85,334.61 426.20,335.41 426.55,336.16 426.90,336.83 427.25,337.40 427.60,337.85 427.95,338.20 428.30,338.51 428.65,338.78 429.00,339.03 429.35,339.26 429.70,339.47 430.05,339.66 430.40,339.85 430.75,340.04 431.10,340.23 431.45,340.43 431.80,340.62 432.15,340.81 432.50,340.99 432.85,341.16 433.20,341.33 433.55,341.50 433.90,341.67 434.25,341.84 434.60,342.02 434.95,342.20 435.30,342.38 435.65,342.58 436.00,342.80 436.35,343.02 436.70,343.25 437.05,343.48 437.40,343.71 437.75,343.94 438.10,344.16 438.45,344.36 438.80,344.56 439.15,344.73 439.50,344.88 439.85,345.01 440.20,345.11 440.55,345.20 440.90,345.29 441.25,345.37 441.60,345.45 441.95,345.53 442.30,345.61 442.65,345.68 443.00,345.75 443.35,345.81 443.70,345.87 444.05,345.92 444.40,345.97 444.75,346.01 445.10,346.04 445.45,346.07 445.80,346.09 446.15,346.10 446.50,346.10 446.85,346.10 447.20,346.10 447.55,346.10 447.90,346.10 448.25,346.10 448.60,346.10 448.95,346.10 449.30,346.10 449.65,346.10 450.00,346.10 450.35,346.10 450.70,346.10 451.05,346.10 451.40,346.10 451.75,346.10 452.10,346.10 452.45,346.10 452.80,346.10 453.15,346.10 453.50,346.10 453.85,346.10 454.20,346.10 454.55,346.10 454.90,346.10 455.25,346.10 455.60,346.10 455.95,346.10 456.30,346.10 456.65,346.10 457.00,346.10 457.35,346.10 457.70,346.10 458.05,346.10 458.40,346.10 458.75,346.10 459.10,346.10 459.45,346.10 459.80,346.09 460.15,346.09 460.50,346.08 460.85,346.07 461.20,346.06 461.55,346.05 461.90,346.04 462.25,346.03 462.60,346.02 462.95,346.00 463.30,345.99 463.65,345.97 464.00,345.95 464.35,345.94 464.70,345.92 465.05,345.90 465.40,345.89 465.75,345.87 466.10,345.85 466.45,345.84 466.80,345.82 467.15,345.81 467.50,345.79 467.85,345.78 468.20,345.77 468.55,345.75 468.90,345.74 469.25,345.73 469.60,345.72 469.95,345.71 470.30,345.71 470.65,345.70 471.00,345.70 471.35,345.70 471.70,345.70 472.05,345.71 472.40,345.72 472.75,345.73 473.10,345.75 473.45,345.77 473.80,345.79 474.15,345.81 474.50,345.84 474.85,345.86 475.20,345.89 475.55,345.92 475.90,345.96 476.25,345.99 476.60,346.02 476.95,346.05 477.30,346.08 477.65,346.11 478.00,346.14 478.35,346.17 478.70,346.19 479.05,346.22 479.40,346.24 479.75,346.26 480.10,346.27 480.45,346.28 480.80,346.29 481.15,346.30 481.50,346.30 481.85,346.27 482.20,346.22 482.55,346.14 482.90,346.04 483.25,345.93 483.60,345.81 483.95,345.68 484.30,345.56 484.65,345.44 485.00,345.33 485.35,345.24 485.70,345.16 486.05,345.12 486.40,345.10 486.75,345.10 487.10,345.10 487.45,345.10 487.80,345.10 488.15,345.10 488.50,345.10 488.85,345.10 489.20,345.10 489.55,345.10 489.90,345.10 490.25,345.10 490.60,345.15 490.95,345.24 491.30,345.37 491.65,345.52 492.00,345.69 492.35,345.85 492.70,346.01 493.05,346.14 493.40,346.24 493.75,346.29 494.10,346.30 494.45,346.28 494.80,346.24 495.15,346.19 495.50,346.13 495.85,346.06 496.20,345.97 496.55,345.88 496.90,345.77 497.25,345.66 497.60,345.55 497.95,345.43 498.30,345.31 498.65,345.19 499.00,345.06 499.35,344.92 499.70,344.74 500.05,344.55 500.40,344.33 500.75,344.11 501.10,343.88 501.45,343.64 501.80,343.41 502.15,343.19 502.50,342.98 502.85,342.79 503.20,342.58 503.55,342.36 503.90,342.13 504.25,341.89 504.60,341.66 504.95,341.44 505.30,341.22 505.65,341.02 506.00,340.84 506.35,340.68 506.70,340.56 507.05,340.47 507.40,340.41 507.75,340.40 508.10,340.43 508.45,340.49 508.80,340.57 509.15,340.67 509.50,340.79 509.85,340.91 510.20,341.04 510.55,341.17 510.90,341.30 511.25,341.41 511.60,341.51 511.95,341.58 512.30,341.63 512.65,341.65 513.00,341.59 513.35,341.42 513.70,341.17 514.05,340.86 514.40,340.52 514.75,340.18 515.10,339.84 515.45,339.55 515.80,339.32 516.15,339.18 516.50,339.16 516.85,339.36 517.20,339.77 517.55,340.34 517.90,341.02 518.25,341.75 518.60,342.48 518.95,343.17 519.30,343.76 519.65,344.19 520.00,344.43 520.35,344.45 520.70,344.45 521.05,344.44 521.40,344.43 521.75,344.43 522.10,344.41 522.45,344.40 522.80,344.38 523.15,344.37 523.50,344.35 523.85,344.32 524.20,344.30 524.55,344.27 524.90,344.24 525.25,344.21 525.60,344.18 525.95,344.15 526.30,344.11 526.65,344.08 527.00,344.04 527.35,344.00 527.70,343.96 528.05,343.91 528.40,343.87 528.75,343.82 529.10,343.76 529.45,343.66 529.80,343.52 530.15,343.34 530.50,343.12 530.85,342.89 531.20,342.63 531.55,342.36 531.90,342.09 532.25,341.82 532.60,341.55 532.95,341.30 533.30,341.06 533.65,340.86 534.00,340.68 534.35,340.54 534.70,340.45 535.05,340.40 535.40,340.40 535.75,340.42 536.10,340.46 536.45,340.50 536.80,340.55 537.15,340.61 537.50,340.67 537.85,340.74 538.20,340.80 538.55,340.86 538.90,340.91 539.25,340.95 539.60,340.98 539.95,341.00 540.30,341.00 540.65,340.99 541.00,340.97 541.35,340.93 541.70,340.89 542.05,340.84 542.40,340.78 542.75,340.70 543.10,340.62 543.45,340.53 543.80,340.43 544.15,340.23 544.50,339.75 544.85,339.08 545.20,338.32 545.55,337.60 545.90,337.02 546.25,336.69 546.60,336.74 546.95,337.27 547.30,338.13 547.65,339.15 548.00,340.17 548.35,341.03 548.70,341.56 549.05,341.64 549.40,341.53 549.75,341.31 550.10,341.02 550.45,340.67 550.80,340.28 551.15,339.88 551.50,339.49 551.85,339.13 552.20,338.81 552.55,338.58 552.90,338.43 553.25,338.41 553.60,338.58 553.95,338.92 554.30,339.38 554.65,339.92 555.00,340.48 555.35,341.02 555.70,341.49 556.05,341.83 556.40,342.05 556.75,342.23 557.10,342.40 557.45,342.55 557.80,342.69 558.15,342.82 558.50,342.93 558.85,343.04 559.20,343.15 559.55,343.25 559.90,343.35 560.25,343.46 560.60,343.57 560.95,343.69 561.30,343.82 561.65,343.97 562.00,344.13 562.35,344.31 562.70,344.56 563.05,344.85 563.40,345.17 563.75,345.47 564.10,345.76 564.45,345.99 564.80,346.14 565.15,346.20 565.50,346.19 565.85,346.17 566.20,346.14 566.55,346.10 566.90,346.06 567.25,346.01 567.60,345.96 567.95,345.91 568.30,345.85 568.65,345.81 569.00,345.77 569.35,345.73 569.70,345.71 570.05,345.70 570.40,345.70 570.75,345.72 571.10,345.75 571.45,345.79 571.80,345.84 572.15,345.90 572.50,345.96 572.85,346.04 573.20,346.12 573.55,346.20"/>
<polyline stroke="#AC8E18" points="70.25,346.50 70.60,346.50 70.95,346.50 71.30,346.50 71.65,346.50 72.00,346.50 72.35,346.50 72.70,346.50 73.05,346.50 73.40,346.50 73.75,346.50 74.10,346.50 74.45,346.50 74.80,346.50 75.15,346.50 75.50,346.50 75.85,346.50 76.20,346.50 76.55,346.50 76.90,346.50 77.25,346.50 77.60,346.50 77.95,346.50 78.30,346.50 78.65,346.50 79.00,346.50 79.35,346.50 79.70,346.50 80.05,346.50 80.40,346.50 80.75,346.50 81.10,346.50 81.45,346.50 81.80,346.50 82.15,346.50 82.50,346.50 82.85,346.50 83.20,346.50 83.55,346.50 83.90,346.50 84.25,346.50 84.60,346.50 84.95,346.50 85.30,346.50 85.65,346.50 86.00,346.50 86.35,346.50 86.70,346.50 87.05,346.50 87.40,346.50 87.75,346.50 88.10,346.50 88.45,346.50 88.80,346.50 89.15,346.49 89.50,346.49 89.85,346.49 90.20,346.49 90.55,346.49 90.90,346.49 91.25,346.49 91.60,346.49 91.95,346.49 92.30,346.49 92.65,346.49 93.00,346.49 93.35,346.49 93.70,346.49 94.05,346.49 94.40,346.49 94.75,346.49 95.10,346.49 95.45,346.49 95.80,346.49 96.15,346.49 96.50,346.49 96.85,346.49 97.20,346.49 97.55,346.49 97.90,346.49 98.25,346.49 98.60,346.49 98.95,346.49 99.30,346.49 99.65,346.49 100.00,346.49 100.35,346.49 100.70,346.49 101.05,346.49 101.40,346.49 101.75,346.49 102.10,346.49 102.45,346.48 102.80,346.48 103.15,346.48 103.50,346.48 103.85,346.48 104.20,346.48 104.55,346.48 104.90,346.48 105.25,346.48 105.60,346.48 105.95,346.48 106.30,346.48 106.65,346.48 107.00,346.48 107.35,346.48 107.70,346.48 108.05,346.48 108.40,346.48 108.75,346.48 109.10,346.48 109.45,346.48 109.80,346.48 110.15,346.48 110.50,346.48 110.85,346.48 111.20,346.48 111.55,346.47 111.90,346.47 112.25,346.47 112.60,346.47 112.95,346.47 113.30,346.47 113.65,346.47 114.00,346.47 114.35,346.47 114.70,346.47 115.05,346.47 115.40,346.47 115.75,346.47 116.10,346.47 116.45,346.47 116.80,346.47 117.15,346.47 117.50,346.47 117.85,346.47 118.20,346.47 118.55,346.46 118.90,346.46 119.25,346.46 119.60,346.46 119.95,346.46 120.30,346.46 120.65,346.46 121.00,346.46 121.35,346.46 121.70,346.46 122.05,346.46 122.40,346.46 122.75,346.46 123.10,346.46 123.45,346.46 123.80,346.46 124.15,346.46 124.50,346.46 124.85,346.45 125.20,346.45 125.55,346.45 125.90,346.45 126.25,346.45 126.60,346.45 126.95,346.45 127.30,346.45 127.65,346.45 128.00,346.45 128.35,346.45 128.70,346.45 129.05,346.45 129.40,346.45 129.75,346.45 130.10,346.45 130.45,346.44 130.80,346.44 131.15,346.44 131.50,346.44 131.85,346.44 132.20,346.44 132.55,346.44 132.90,346.44 133.25,346.44 133.60,346.44 133.95,346.44 134.30,346.44 134.65,346.44 135.00,346.44 135.35,346.43 135.70,346.43 136.05,346.43 136.40,346.43 136.75,346.43 137.10,346.43 137.45,346.43 137.80,346.43 138.15,346.43 138.50,346.43 138.85,346.43 139.20,346.43 139.55,346.43 139.90,346.43 140.25,346.42 140.60,346.42 140.95,346.42 141.30,346.42 141.65,346.42 142.00,346.42 142.35,346.42 142.70,346.42 143.05,346.42 143.40,346.42 143.75,346.42 144.10,346.42 144.45,346.41 144.80,346.41 145.15,346.41 145.50,346.41 145.85,346.41 146.20,346.41 146.55,346.41 146.90,346.41 147.25,346.41 147.60,346.41 147.95,346.41 148.30,346.40 148.65,346.40 149.00,346.40 149.35,346.40 149.70,346.40 150.05,346.40 150.40,346.40 150.75,346.40 151.10,346.40 151.45,346.40 151.80,346.40 152.15,346.39 152.50,346.39 152.85,346.39 153.20,346.39 153.55,346.39 153.90,346.39 154.25,346.39 154.60,346.38 154.95,346.38 155.30,346.38 155.65,346.38 156.00,346.38 156.35,346.37 156.70,346.37 157.05,346.37 157.40,346.37 157.75,346.36 158.10,346.36 158.45,346.36 158.80,346.36 159.15,346.35 159.50,346.35 159.85,346.35 160.20,346.34 160.55,346.34 160.90,346.34 161.25,346.33 161.60,346.33 161.95,346.33 162.30,346.32 162.65,346.32 163.00,346.32 163.35,346.31 163.70,346.31 164.05,346.30 164.40,346.30 164.75,346.29 165.10,346.29 165.45,346.28 165.80,346.28 166.15,346.27 166.50,346.27 166.85,346.26 167.20,346.26 167.55,346.25 167.90,346.24 168.25,346.24 168.60,346.23 168.95,346.22 169.30,346.22 169.65,346.21 170.00,346.20 170.35,346.19 170.70,346.18 171.05,346.16 171.40,346.13 171.75,346.09 172.10,346.06 172.45,346.02 172.80,345.98 173.15,345.93 173.50,345.89 173.85,345.85 174.20,345.82 174.55,345.78 174.90,345.75 175.25,345.73 175.60,345.71 175.95,345.70 176.30,345.70 176.65,345.70 177.00,345.70 177.35,345.70 177.70,345.70 178.05,345.70 178.40,345.70 178.75,345.70 179.10,345.70 179.45,345.70 179.80,345.70 180.15,345.70 180.50,345.70 180.85,345.70 181.20,345.70 181.55,345.70 181.90,345.70 182.25,345.70 182.60,345.70 182.95,345.70 183.30,345.70 183.65,345.70 184.00,345.70 184.35,345.70 184.70,345.70 185.05,345.70 185.40,345.70 185.75,345.69 186.10,345.69 186.45,345.67 186.80,345.66 187.15,345.63 187.50,345.61 187.85,345.58 188.20,345.55 188.55,345.51 188.90,345.47 189.25,345.43 189.60,345.38 189.95,345.33 190.30,345.28 190.65,345.22 191.00,345.16 191.35,345.10 191.70,345.03 192.05,344.96 192.40,344.89 192.75,344.81 193.10,344.73 193.45,344.65 193.80,344.56 194.15,344.47 194.50,344.38 194.85,344.28 195.20,344.18 195.55,343.99 195.90,343.71 196.25,343.39 196.60,343.11 196.95,342.93 197.30,342.92 197.65,343.06 198.00,343.33 198.35,343.68 198.70,344.06 199.05,344.45 199.40,344.79 199.75,345.05 200.10,345.19 200.45,345.23 200.80,345.27 201.15,345.30 201.50,345.34 201.85,345.37 202.20,345.40 202.55,345.43 202.90,345.45 203.25,345.48 203.60,345.50 203.95,345.52 204.30,345.55 204.65,345.56 205.00,345.58 205.35,345.60 205.70,345.61 206.05,345.63 206.40,345.64 206.75,345.65 207.10,345.66 207.45,345.67 207.80,345.68 208.15,345.68 208.50,345.69 208.85,345.69 209.20,345.70 209.55,345.70 209.90,345.70 210.25,345.70 210.60,345.70 210.95,345.70 211.30,345.69 211.65,345.69 212.00,345.68 212.35,345.67 212.70,345.66 213.05,345.65 213.40,345.64 213.75,345.62 214.10,345.61 214.45,345.59 214.80,345.58 215.15,345.56 215.50,345.54 215.85,345.52 216.20,345.50 216.55,345.47 216.90,345.45 217.25,345.43 217.60,345.40 217.95,345.38 218.30,345.35 218.65,345.32 219.00,345.30 219.35,345.27 219.70,345.24 220.05,345.21 220.40,345.18 220.75,345.14 221.10,345.09 221.45,345.04 221.80,344.99 222.15,344.93 222.50,344.86 222.85,344.79 223.20,344.71 223.55,344.63 223.90,344.54 224.25,344.45 224.60,344.36 224.95,344.26 225.30,344.15 225.65,344.01 226.00,343.84 226.35,343.63 226.70,343.41 227.05,343.16 227.40,342.90 227.75,342.64 228.10,342.37 228.45,342.11 228.80,341.86 229.15,341.63 229.50,341.42 229.85,341.23 230.20,341.09 230.55,340.98 230.90,340.91 231.25,340.90 231.60,340.90 231.95,340.90 232.30,340.90 232.65,340.90 233.00,340.90 233.35,340.90 233.70,340.90 234.05,340.90 234.40,340.90 234.75,340.90 235.10,340.90 235.45,341.01 235.80,341.36 236.15,341.89 236.50,342.52 236.85,343.18 237.20,343.80 237.55,344.30 237.90,344.63 238.25,344.70 238.60,344.69 238.95,344.66 239.30,344.61 239.65,344.56 240.00,344.49 240.35,344.41 240.70,344.32 241.05,344.23 241.40,344.08 241.75,343.75 242.10,343.29 242.45,342.72 242.80,342.08 243.15,341.41 243.50,340.75 243.85,340.13 244.20,339.61 244.55,339.20 244.90,338.96 245.25,338.92 245.60,339.24 245.95,339.87 246.30,340.66 246.65,341.49 247.00,342.23 247.35,342.74 247.70,342.89 248.05,342.54 248.40,341.72 248.75,340.57 249.10,339.21 249.45,337.79 249.80,336.42 250.15,335.23 250.50,334.36 250.85,333.92 251.20,334.09 251.55,334.91 251.90,336.17 252.25,337.68 252.60,339.21 252.95,340.57 253.30,341.53 253.65,341.90 254.00,341.43 254.35,340.18 254.70,338.38 255.05,336.27 255.40,334.10 255.75,332.10 256.10,330.51 256.45,329.56 256.80,329.50 257.15,330.39 257.50,331.95 257.85,333.87 258.20,335.83 258.55,337.52 258.90,338.63 259.25,338.84 259.60,337.74 259.95,335.54 260.30,332.57 260.65,329.16 261.00,325.65 261.35,322.39 261.70,319.70 262.05,317.93 262.40,317.41 262.75,317.91 263.10,319.04 263.45,320.64 263.80,322.52 264.15,324.50 264.50,326.40 264.85,328.05 265.20,329.27 265.55,329.87 265.90,329.68 266.25,328.71 266.60,327.15 266.95,325.17 267.30,322.95 267.65,320.68 268.00,318.54 268.35,316.72 268.70,315.39 269.05,314.74 269.40,314.93 269.75,315.92 270.10,317.50 270.45,319.47 270.80,321.61 271.15,323.72 271.50,325.60 271.85,327.03 272.20,327.82 272.55,327.81 272.90,327.24 273.25,326.26 273.60,324.98 273.95,323.52 274.30,322.00 274.65,320.52 275.00,319.21 275.35,318.18 275.70,317.54 276.05,317.43 276.40,317.95 276.75,319.02 277.10,320.50 277.45,322.26 277.80,324.15 278.15,326.04 278.50,327.80 278.85,329.28 279.20,330.35 279.55,330.87 279.90,330.78 280.25,330.26 280.60,329.42 280.95,328.35 281.30,327.14 281.65,325.89 282.00,324.69 282.35,323.64 282.70,322.84 283.05,322.38 283.40,322.38 283.75,323.12 284.10,324.44 284.45,326.12 284.80,327.93 285.15,329.63 285.50,331.00 285.85,331.84 286.20,332.50 286.55,333.12 286.90,333.63 287.25,333.99 287.60,334.15 287.95,334.00 288.30,333.52 288.65,332.83 289.00,332.05 289.35,331.31 289.70,330.72 290.05,330.42 290.40,330.71 290.75,331.98 291.10,333.88 291.45,336.02 291.80,338.02 292.15,339.54 292.50,340.97 292.85,342.41 293.20,343.69 293.55,344.64 293.90,345.10 294.25,345.25 294.60,345.38 294.95,345.49 295.30,345.58 295.65,345.64 296.00,345.68 296.35,345.70 296.70,345.51 297.05,344.91 297.40,344.05 297.75,343.07 298.10,342.14 298.45,341.40 298.80,341.02 299.15,341.04 299.50,341.19 299.85,341.42 300.20,341.69 300.55,341.95 300.90,342.16 301.25,342.29 301.60,342.24 301.95,341.90 302.30,341.30 302.65,340.51 303.00,339.60 303.35,338.64 303.70,337.70 304.05,336.83 304.40,336.12 304.75,335.62 305.10,335.40 305.45,335.42 305.80,335.50 306.15,335.62 306.50,335.77 306.85,335.94 307.20,336.11 307.55,336.28 307.90,336.43 308.25,336.55 308.60,336.63 308.95,336.65 309.30,336.57 309.65,336.39 310.00,336.13 310.35,335.82 310.70,335.47 311.05,335.13 311.40,334.80 311.75,334.51 312.10,334.30 312.45,334.17 312.80,334.16 313.15,334.21 313.50,334.31 313.85,334.45 314.20,334.61 314.55,334.79 314.90,334.96 315.25,335.12 315.60,335.25 315.95,335.35 316.30,335.40 316.65,335.37 317.00,335.25 317.35,335.05 317.70,334.77 318.05,334.44 318.40,334.08 318.75,333.69 319.10,333.30 319.45,332.92 319.80,332.56 320.15,332.24 320.50,331.97 320.85,331.78 321.20,331.67 321.55,331.66 321.90,331.71 322.25,331.81 322.60,331.95 322.95,332.11 323.30,332.29 323.65,332.46 324.00,332.62 324.35,332.75 324.70,332.85 325.05,332.90 325.40,332.86 325.75,332.68 326.10,332.37 326.45,331.97 326.80,331.51 327.15,331.00 327.50,330.48 327.85,329.96 328.20,329.49 328.55,329.08 328.90,328.76 329.25,328.56 329.60,328.51 329.95,328.86 330.30,329.67 330.65,330.77 331.00,332.04 331.35,333.33 331.70,334.50 332.05,335.40 332.40,336.11 332.75,336.80 333.10,337.45 333.45,338.07 333.80,338.65 334.15,339.19 334.50,339.67 334.85,340.09 335.20,340.45 335.55,340.76 335.90,341.05 336.25,341.32 336.60,341.57 336.95,341.80 337.30,342.02 337.65,342.22 338.00,342.42 338.35,342.61 338.70,342.79 339.05,342.98 339.40,343.18 339.75,343.38 340.10,343.59 340.45,343.80 340.80,344.00 341.15,344.20 341.50,344.39 341.85,344.56 342.20,344.71 342.55,344.85 342.90,344.96 343.25,345.04 343.60,345.09 343.95,345.10 344.30,345.09 344.65,345.07 345.00,345.03 345.35,344.99 345.70,344.93 346.05,344.86 346.40,344.79 346.75,344.71 347.10,344.62 347.45,344.53 347.80,344.44 348.15,344.34 348.50,344.25 348.85,344.15 349.20,344.05 349.55,343.95 349.90,343.86 350.25,343.78 350.60,343.69 350.95,343.60 351.30,343.51 351.65,343.41 352.00,343.32 352.35,343.22 352.70,343.12 353.05,343.01 353.40,342.91 353.75,342.79 354.10,342.68 354.45,342.56 354.80,342.43 355.15,342.30 355.50,342.17 355.85,342.03 356.20,341.89 356.55,341.75 356.90,341.59 357.25,341.43 357.60,341.25 357.95,341.05 358.30,340.83 358.65,340.59 359.00,340.31 359.35,339.88 359.70,339.28 360.05,338.57 360.40,337.78 360.75,336.97 361.10,336.18 361.45,335.46 361.80,334.85 362.15,334.41 362.50,334.17 362.85,334.22 363.20,334.61 363.55,335.26 363.90,336.02 364.25,336.79 364.60,337.44 364.95,337.83 365.30,337.84 365.65,337.31 366.00,336.33 366.35,335.02 366.70,333.50 367.05,331.92 367.40,330.39 367.75,329.04 368.10,328.00 368.45,327.40 368.80,327.39 369.15,328.22 369.50,329.71 369.85,331.59 370.20,333.61 370.55,335.49 370.90,336.98 371.25,337.81 371.60,337.55 371.95,335.50 372.30,332.10 372.65,327.92 373.00,323.54 373.35,319.53 373.70,316.45 374.05,314.89 374.40,315.08 374.75,316.31 375.10,318.28 375.45,320.73 375.80,323.42 376.15,326.09 376.50,328.49 376.85,330.37 377.20,331.47 377.55,331.49 377.90,330.00 378.25,327.30 378.60,323.82 378.95,319.97 379.30,316.18 379.65,312.88 380.00,310.48 380.35,309.42 380.70,310.05 381.05,312.18 381.40,315.34 381.75,319.07 382.10,322.90 382.45,326.36 382.80,328.99 383.15,330.32 383.50,330.29 383.85,329.81 384.20,329.03 384.55,328.03 384.90,326.88 385.25,325.68 385.60,324.50 385.95,323.43 386.30,322.54 386.65,321.92 387.00,321.65 387.35,321.91 387.70,322.77 388.05,324.12 388.40,325.81 388.75,327.69 389.10,329.64 389.45,331.50 389.80,333.15 390.15,334.43 390.50,335.22 390.85,335.38 391.20,334.99 391.55,334.19 391.90,333.08 392.25,331.75 392.60,330.31 392.95,328.86 393.30,327.49 393.65,326.30 394.00,325.40 394.35,324.88 394.70,324.85 395.05,325.33 395.40,326.22 395.75,327.42 396.10,328.82 396.45,330.31 396.80,331.79 397.15,333.15 397.50,334.27 397.85,335.06 398.20,335.39 398.55,335.10 398.90,334.09 399.25,332.56 399.60,330.72 399.95,328.74 400.30,326.84 400.65,325.20 401.00,324.03 401.35,323.51 401.70,323.76 402.05,324.65 402.40,326.03 402.75,327.76 403.10,329.69 403.45,331.71 403.80,333.64 404.15,335.37 404.50,336.75 404.85,337.64 405.20,337.90 405.55,337.70 405.90,337.25 406.25,336.60 406.60,335.82 406.95,334.96 407.30,334.09 407.65,333.27 408.00,332.56 408.35,332.01 408.70,331.70 409.05,331.67 409.40,331.86 409.75,332.22 410.10,332.70 410.45,333.27 410.80,333.87 411.15,334.47 411.50,335.02 411.85,335.49 412.20,335.83 412.55,335.99 412.90,335.83 413.25,335.09 413.60,333.93 413.95,332.51 414.30,330.99 414.65,329.53 415.00,328.31 415.35,327.44 415.70,326.74 416.05,326.14 416.40,325.58 416.75,324.98 417.10,324.30 417.45,323.47 417.80,322.38 418.15,320.75 418.50,318.63 418.85,316.14 419.20,313.40 419.55,310.56 419.90,307.72 420.25,305.02 420.60,302.58 420.95,300.40 421.30,298.02 421.65,295.54 422.00,293.17 422.35,291.08 422.70,289.48 423.05,288.55 423.40,288.71 423.75,291.49 424.10,296.46 424.45,302.70 424.80,309.33 425.15,315.45 425.50,320.16 425.85,322.56 426.20,321.88 426.55,318.38 426.90,312.85 427.25,306.12 427.60,298.98 427.95,292.25 428.30,286.72 428.65,283.22 429.00,282.52 429.35,284.71 429.70,289.11 430.05,295.03 430.40,301.79 430.75,308.69 431.10,315.05 431.45,320.18 431.80,323.40 432.15,324.05 432.50,322.24 432.85,318.75 433.20,314.31 433.55,309.67 433.90,305.55 434.25,302.69 434.60,301.83 434.95,303.33 435.30,306.75 435.65,311.49 436.00,316.98 436.35,322.63 436.70,327.87 437.05,332.11 437.40,334.78 437.75,335.32 438.10,333.91 438.45,331.20 438.80,327.74 439.15,324.12 439.50,320.92 439.85,318.69 440.20,318.02 440.55,318.91 440.90,320.93 441.25,323.74 441.60,326.99 441.95,330.34 442.30,333.44 442.65,335.95 443.00,337.53 443.35,337.85 443.70,336.89 444.05,334.92 444.40,332.18 444.75,328.91 445.10,325.37 445.45,321.78 445.80,318.41 446.15,315.50 446.50,313.28 446.85,312.01 447.20,311.91 447.55,312.92 447.90,314.77 448.25,317.17 448.60,319.85 448.95,322.53 449.30,324.93 449.65,326.78 450.00,327.79 450.35,327.73 450.70,326.71 451.05,324.92 451.40,322.59 451.75,319.89 452.10,317.04 452.45,314.22 452.80,311.66 453.15,309.53 453.50,308.05 453.85,307.41 454.20,307.78 454.55,309.04 454.90,310.95 455.25,313.26 455.60,315.74 455.95,318.12 456.30,320.17 456.65,321.64 457.00,322.29 457.35,321.74 457.70,319.85 458.05,316.97 458.40,313.43 458.75,309.57 459.10,305.74 459.45,302.27 459.80,299.51 460.15,297.80 460.50,297.46 460.85,298.47 461.20,300.54 461.55,303.37 461.90,306.69 462.25,310.21 462.60,313.65 462.95,316.73 463.30,319.16 463.65,320.66 464.00,320.96 464.35,320.27 464.70,318.86 465.05,316.93 465.40,314.66 465.75,312.26 466.10,309.91 466.45,307.81 466.80,306.16 467.15,305.13 467.50,304.94 467.85,305.60 468.20,306.97 468.55,308.89 468.90,311.20 469.25,313.73 469.60,316.34 469.95,318.85 470.30,321.11 470.65,322.96 471.00,324.24 471.35,324.79 471.70,324.43 472.05,323.17 472.40,321.23 472.75,318.83 473.10,316.19 473.45,313.51 473.80,311.02 474.15,308.93 474.50,307.45 474.85,306.81 475.20,307.23 475.55,308.68 475.90,310.89 476.25,313.57 476.60,316.48 476.95,319.32 477.30,321.83 477.65,323.75 478.00,324.79 478.35,324.75 478.70,323.84 479.05,322.32 479.40,320.43 479.75,318.41 480.10,316.48 480.45,314.90 480.80,313.89 481.15,313.78 481.50,315.94 481.85,320.01 482.20,324.95 482.55,329.74 482.90,333.36 483.25,334.80 483.60,334.60 483.95,334.08 484.30,333.34 484.65,332.48 485.00,331.60 485.35,330.81 485.70,330.22 486.05,329.92 486.40,330.03 486.75,330.57 487.10,331.42 487.45,332.43 487.80,333.46 488.15,334.40 488.50,335.08 488.85,335.39 489.20,335.30 489.55,334.98 489.90,334.52 490.25,334.00 490.60,333.50 490.95,333.11 491.30,332.91 491.65,333.10 492.00,333.93 492.35,335.22 492.70,336.76 493.05,338.32 493.40,339.83 493.75,341.83 494.10,343.80 494.45,345.01 494.80,345.16 495.15,345.24 495.50,345.31 495.85,345.36 496.20,345.41 496.55,345.45 496.90,345.49 497.25,345.52 497.60,345.55 497.95,345.57 498.30,345.59 498.65,345.61 499.00,345.63 499.35,345.65 499.70,345.67 500.05,345.69 500.40,345.72 500.75,345.75 501.10,345.78 501.45,345.81 501.80,345.83 502.15,345.86 502.50,345.89 502.85,345.92 503.20,345.95 503.55,345.98 503.90,346.01 504.25,346.03 504.60,346.06 504.95,346.08 505.30,346.11 505.65,346.13 506.00,346.16 506.35,346.18 506.70,346.20 507.05,346.22 507.40,346.23 507.75,346.25 508.10,346.26 508.45,346.27 508.80,346.28 509.15,346.29 509.50,346.30 509.85,346.30 510.20,346.30 510.55,346.30 510.90,346.30 511.25,346.30 511.60,346.30 511.95,346.30 512.30,346.30 512.65,346.30 513.00,346.30 513.35,346.30 513.70,346.30 514.05,346.30 514.40,346.30 514.75,346.30 515.10,346.30 515.45,346.30 515.80,346.30 516.15,346.30 516.50,346.30 516.85,346.30 517.20,346.30 517.55,346.30 517.90,346.30 518.25,346.30 518.60,346.30 518.95,346.30 519.30,346.30 519.65,346.30 520.00,346.30 520.35,346.30 520.70,346.30 521.05,346.30 521.40,346.30 521.75,346.30 522.10,346.30 522.45,346.30 522.80,346.30 523.15,346.30 523.50,346.29 523.85,346.29 524.20,346.28 524.55,346.26 524.90,346.25 525.25,346.23 525.60,346.22 525.95,346.20 526.30,346.18 526.65,346.15 527.00,346.13 527.35,346.11 527.70,346.08 528.05,346.05 528.40,346.02 528.75,346.00 529.10,345.97 529.45,345.94 529.80,345.90 530.15,345.87 530.50,345.84 530.85,345.81 531.20,345.78 531.55,345.75 531.90,345.72 532.25,345.68 532.60,345.65 532.95,345.62 533.30,345.59 533.65,345.56 534.00,345.54 534.35,345.51 534.70,345.48 535.05,345.46 535.40,345.43 535.75,345.41 536.10,345.40 536.45,345.38 536.80,345.36 537.15,345.35 537.50,345.33 537.85,345.31 538.20,345.29 538.55,345.27 538.90,345.24 539.25,345.21 539.60,345.17 539.95,345.13 540.30,345.04 540.65,344.63 541.00,343.95 541.35,343.12 541.70,342.29 542.05,341.58 542.40,341.11 542.75,341.00 543.10,341.06 543.45,341.16 543.80,341.29 544.15,341.42 544.50,341.54 544.85,341.62 545.20,341.65 545.55,341.51 545.90,341.19 546.25,340.74 546.60,340.23 546.95,339.70 547.30,339.21 547.65,338.81 548.00,338.56 548.35,338.55 548.70,339.34 549.05,340.78 549.40,342.40 549.75,343.77 550.10,344.44 550.45,344.39 550.80,344.19 551.15,343.87 551.50,343.45 551.85,342.96 552.20,342.42 552.55,341.84 552.90,341.26 553.25,340.70 553.60,340.17 553.95,339.71 554.30,339.33 554.65,339.06 555.00,338.91 555.35,338.95 555.70,339.25 556.05,339.76 556.40,340.40 556.75,341.10 557.10,341.77 557.45,342.35 557.80,342.75 558.15,342.90 558.50,342.87 558.85,342.79 559.20,342.67 559.55,342.52 559.90,342.34 560.25,342.14 560.60,341.93 560.95,341.72 561.30,341.52 561.65,341.33 562.00,341.17 562.35,341.04 562.70,340.95 563.05,340.90 563.40,340.93 563.75,341.04 564.10,341.24 564.45,341.51 564.80,341.83 565.15,342.18 565.50,342.56 565.85,342.95 566.20,343.32 566.55,343.68 566.90,344.00 567.25,344.28 567.60,344.56 567.95,344.87 568.30,345.18 568.65,345.48 569.00,345.74 569.35,345.96 569.70,346.12 570.05,346.20 570.40,346.20 570.75,346.20 571.10,346.20 571.45,346.20 571.80,346.20 572.15,346.20 572.50,346.20 572.85,346.20 573.20,346.20 573.55,346.20"/>
<polyline stroke="#00AAAE" points="70.25,346.50 70.60,346.50 70.95,346.50 71.30,346.50 71.65,346.50 72.00,346.50 72.35,346.50 72.70,346.50 73.05,346.50 73.40,346.50 73.75,346.50 74.10,346.50 74.45,346.50 74.80,346.50 75.15,346.50 75.50,346.50 75.85,346.50 76.20,346.50 76.55,346.50 76.90,346.50 77.25,346.50 77.60,346.50 77.95,346.50 78.30,346.50 78.65,346.50 79.00,346.50 79.35,346.50 79.70,346.50 80.05,346.50 80.40,346.50 80.75,346.50 81.10,346.50 81.45,346.50 81.80,346.50 82.15,346.50 82.50,346.50 82.85,346.50 83.20,346.50 83.55,346.50 83.90,346.50 84.25,346.50 84.60,346.50 84.95,346.50 85.30,346.50 85.65,346.50 86.00,346.50 86.35,346.50 86.70,346.50 87.05,346.50 87.40,346.50 87.75,346.50 88.10,346.50 88.45,346.50 88.80,346.50 89.15,346.50 89.50,346.50 89.85,346.50 90.20,346.50 90.55,346.50 90.90,346.50 91.25,346.50 91.60,346.50 91.95,346.49 92.30,346.49 92.65,346.49 93.00,346.49 93.35,346.49 93.70,346.49 94.05,346.49 94.40,346.49 94.75,346.49 95.10,346.49 95.45,346.49 95.80,346.49 96.15,346.49 96.50,346.49 96.85,346.49 97.20,346.49 97.55,346.49 97.90,346.49 98.25,346.49 98.60,346.49 98.95,346.49 99.30,346.49 99.65,346.49 100.00,346.49 100.35,346.49 100.70,346.49 101.05,346.49 101.40,346.49 101.75,346.49 102.10,346.49 102.45,346.49 102.80,346.49 103.15,346.49 103.50,346.49 103.85,346.49 104.20,346.49 104.55,346.49 104.90,346.49 105.25,346.49 105.60,346.49 105.95,346.48 106.30,346.48 106.65,346.48 107.00,346.48 107.35,346.48 107.70,346.48 108.05,346.48 108.40,346.48 108.75,346.48 109.10,346.48 109.45,346.48 109.80,346.48 110.15,346.48 110.50,346.48 110.85,346.48 111.20,346.48 111.55,346.48 111.90,346.48 112.25,346.48 112.60,346.48 112.95,346.48 113.30,346.48 113.65,346.48 114.00,346.48 114.35,346.48 114.70,346.48 115.05,346.47 115.40,346.47 115.75,346.47 116.10,346.47 116.45,346.47 116.80,346.47 117.15,346.47 117.50,346.47 117.85,346.47 118.20,346.47 118.55,346.47 118.90,346.47 119.25,346.47 119.60,346.47 119.95,346.47 120.30,346.47 120.65,346.47 121.00,346.47 121.35,346.47 121.70,346.47 122.05,346.46 122.40,346.46 122.75,346.46 123.10,346.46 123.45,346.46 123.80,346.46 124.15,346.46 124.50,346.46 124.85,346.46 125.20,346.46 125.55,346.46 125.90,346.46 126.25,346.46 126.60,346.46 126.95,346.46 127.30,346.46 127.65,346.45 128.00,346.45 128.35,346.45 128.70,346.45 129.05,346.45 129.40,346.45 129.75,346.45 130.10,346.45 130.45,346.45 130.80,346.45 131.15,346.45 131.50,346.45 131.85,346.45 132.20,346.45 132.55,346.45 132.90,346.44 133.25,346.44 133.60,346.44 133.95,346.44 134.30,346.44 134.65,346.44 135.00,346.44 135.35,346.44 135.70,346.44 136.05,346.44 136.40,346.44 136.75,346.44 137.10,346.44 137.45,346.43 137.80,346.43 138.15,346.43 138.50,346.43 138.85,346.43 139.20,346.43 139.55,346.43 139.90,346.43 140.25,346.43 140.60,346.43 140.95,346.43 141.30,346.42 141.65,346.42 142.00,346.42 142.35,346.42 142.70,346.42 143.05,346.42 143.40,346.42 143.75,346.42 144.10,346.42 144.45,346.42 144.80,346.42 145.15,346.41 145.50,346.41 145.85,346.41 146.20,346.41 146.55,346.41 146.90,346.41 147.25,346.41 147.60,346.41 147.95,346.41 148.30,346.41 148.65,346.40 149.00,346.40 149.35,346.40 149.70,346.40 150.05,346.40 150.40,346.40 150.75,346.40 151.10,346.40 151.45,346.39 151.80,346.39 152.15,346.39 152.50,346.39 152.85,346.39 153.20,346.38 153.55,346.38 153.90,346.38 154.25,346.37 154.60,346.37 154.95,346.36 155.30,346.36 155.65,346.35 156.00,346.34 156.35,346.33 156.70,346.33 157.05,346.32 157.40,346.31 157.75,346.30 158.10,346.28 158.45,346.27 158.80,346.26 159.15,346.25 159.50,346.23 159.85,346.21 160.20,346.19 160.55,346.03 160.90,345.71 161.25,345.33 161.60,344.97 161.95,344.74 162.30,344.72 162.65,344.93 163.00,345.28 163.35,345.67 163.70,346.01 164.05,346.19 164.40,346.20 164.75,346.19 165.10,346.17 165.45,346.15 165.80,346.12 166.15,346.08 166.50,346.03 166.85,345.98 167.20,345.92 167.55,345.86 167.90,345.78 168.25,345.71 168.60,345.63 168.95,345.54 169.30,345.45 169.65,345.35 170.00,345.25 170.35,345.11 170.70,344.83 171.05,344.48 171.40,344.12 171.75,343.84 172.10,343.70 172.45,343.82 172.80,344.20 173.15,344.70 173.50,345.20 173.85,345.58 174.20,345.69 174.55,345.20 174.90,344.18 175.25,342.94 175.60,341.79 175.95,341.03 176.30,340.97 176.65,341.56 177.00,342.35 177.35,342.87 177.70,342.19 178.05,339.48 178.40,336.00 178.75,333.10 179.10,332.12 179.45,333.33 179.80,335.73 180.15,338.39 180.50,340.39 180.85,340.75 181.20,338.30 181.55,334.06 181.90,329.59 182.25,326.47 182.60,326.20 182.95,328.73 183.30,332.78 183.65,337.01 184.00,340.11 184.35,340.74 184.70,338.09 185.05,333.33 185.40,327.92 185.75,323.36 186.10,321.14 186.45,322.36 186.80,326.20 187.15,331.24 187.50,336.09 187.85,339.32 188.20,339.53 188.55,336.30 188.90,331.05 189.25,325.35 189.60,320.78 189.95,318.90 190.30,320.78 190.65,325.35 191.00,331.05 191.35,336.30 191.70,339.53 192.05,339.34 192.40,336.19 192.75,331.39 193.10,326.23 193.45,321.98 193.80,319.94 194.15,321.06 194.50,324.69 194.85,329.65 195.20,334.78 195.55,338.90 195.90,340.86 196.25,340.16 196.60,337.85 196.95,334.64 197.30,331.22 197.65,328.31 198.00,326.59 198.35,326.85 198.70,329.36 199.05,333.20 199.40,337.34 199.75,340.74 200.10,342.37 200.45,341.83 200.80,340.10 201.15,337.81 201.50,335.62 201.85,334.16 202.20,334.06 202.55,335.45 202.90,337.80 203.25,340.54 203.60,343.06 203.95,344.79 204.30,345.31 204.65,345.53 205.00,345.71 205.35,345.85 205.70,345.94 206.05,345.99 206.40,346.01 206.75,346.03 207.10,346.05 207.45,346.06 207.80,346.07 208.15,346.09 208.50,346.10 208.85,346.11 209.20,346.12 209.55,346.13 209.90,346.14 210.25,346.15 210.60,346.16 210.95,346.16 211.30,346.17 211.65,346.18 212.00,346.18 212.35,346.19 212.70,346.19 213.05,346.19 213.40,346.19 213.75,346.20 214.10,346.20 214.45,346.20 214.80,346.20 215.15,346.20 215.50,346.20 215.85,346.19 216.20,346.19 216.55,346.18 216.90,346.16 217.25,346.15 217.60,346.13 217.95,346.11 218.30,346.09 218.65,346.06 219.00,346.03 219.35,346.00 219.70,345.97 220.05,345.94 220.40,345.90 220.75,345.87 221.10,345.83 221.45,345.79 221.80,345.74 222.15,345.70 222.50,345.64 222.85,345.55 223.20,345.43 223.55,345.30 223.90,345.15 224.25,344.99 224.60,344.82 224.95,344.66 225.30,344.51 225.65,344.37 226.00,344.25 226.35,344.15 226.70,344.07 227.05,343.99 227.40,343.92 227.75,343.83 228.10,343.72 228.45,343.53 228.80,343.22 229.15,342.85 229.50,342.46 229.85,342.12 230.20,341.87 230.55,341.69 230.90,341.53 231.25,341.40 231.60,341.28 231.95,341.18 232.30,341.09 232.65,340.99 233.00,340.90 233.35,340.79 233.70,340.67 234.05,340.53 234.40,340.36 234.75,340.17 235.10,339.94 235.45,339.58 235.80,339.00 236.15,338.26 236.50,337.43 236.85,336.58 237.20,335.79 237.55,334.82 237.90,333.74 238.25,332.84 238.60,332.41 238.95,333.43 239.30,336.41 239.65,339.91 240.00,342.46 240.35,343.14 240.70,343.53 241.05,343.88 241.40,344.20 241.75,344.48 242.10,344.73 242.45,344.95 242.80,345.14 243.15,345.30 243.50,345.43 243.85,345.54 244.20,345.61 244.55,345.67 244.90,345.69 245.25,345.70 245.60,345.70 245.95,345.70 246.30,345.70 246.65,345.70 247.00,345.70 247.35,345.70 247.70,345.70 248.05,345.70 248.40,345.70 248.75,345.70 249.10,345.70 249.45,345.70 249.80,345.70 250.15,345.70 250.50,345.70 250.85,345.70 251.20,345.70 251.55,345.66 251.90,345.55 252.25,345.40 252.60,345.20 252.95,344.97 253.30,344.72 253.65,344.45 254.00,344.18 254.35,343.91 254.70,343.65 255.05,343.41 255.40,343.20 255.75,343.03 256.10,342.91 256.45,342.83 256.80,342.77 257.15,342.72 257.50,342.68 257.85,342.63 258.20,342.59 258.55,342.53 258.90,342.46 259.25,342.37 259.60,342.19 259.95,341.91 260.30,341.58 260.65,341.21 261.00,340.82 261.35,340.46 261.70,340.14 262.05,339.89 262.40,339.73 262.75,339.71 263.10,339.92 263.45,340.30 263.80,340.74 264.15,341.13 264.50,341.37 264.85,341.37 265.20,341.19 265.55,340.90 265.90,340.55 266.25,340.20 266.60,339.91 266.95,339.73 267.30,339.72 267.65,339.88 268.00,340.16 268.35,340.50 268.70,340.85 269.05,341.15 269.40,341.35 269.75,341.40 270.10,341.33 270.45,341.20 270.80,341.02 271.15,340.81 271.50,340.59 271.85,340.37 272.20,340.17 272.55,340.02 272.90,339.92 273.25,339.91 273.60,340.02 273.95,340.25 274.30,340.56 274.65,340.90 275.00,341.24 275.35,341.55 275.70,341.78 276.05,341.89 276.40,341.90 276.75,341.88 277.10,341.86 277.45,341.84 277.80,341.81 278.15,341.77 278.50,341.74 278.85,341.71 279.20,341.69 279.55,341.67 279.90,341.65 280.25,341.66 280.60,341.77 280.95,342.01 281.30,342.35 281.65,342.76 282.00,343.20 282.35,343.66 282.70,344.10 283.05,344.50 283.40,344.82 283.75,345.04 284.10,345.16 284.45,345.26 284.80,345.35 285.15,345.45 285.50,345.53 285.85,345.62 286.20,345.70 286.55,345.77 286.90,345.84 287.25,345.91 287.60,345.97 287.95,346.03 288.30,346.08 288.65,346.12 289.00,346.16 289.35,346.20 289.70,346.23 290.05,346.26 290.40,346.28 290.75,346.29 291.10,346.30 291.45,346.30 291.80,346.08 292.15,345.57 292.50,344.82 292.85,343.88 293.20,342.79 293.55,341.61 293.90,340.40 294.25,338.90 294.60,336.94 294.95,334.66 295.30,332.24 295.65,329.82 296.00,327.27 296.35,324.11 296.70,320.73 297.05,317.56 297.40,315.06 297.75,313.65 298.10,314.04 298.45,317.09 298.80,321.75 299.15,326.76 299.50,330.88 299.85,332.86 300.20,331.97 300.55,329.07 300.90,325.06 301.25,320.87 301.60,317.38 301.95,315.51 302.30,316.13 302.65,319.12 303.00,323.44 303.35,328.06 303.70,331.94 304.05,334.03 304.40,333.41 304.75,330.38 305.10,325.89 305.45,320.91 305.80,316.42 306.15,313.39 306.50,312.77 306.85,314.89 307.20,318.87 307.55,323.76 307.90,328.58 308.25,332.35 308.60,334.12 308.95,332.68 309.30,328.11 309.65,321.85 310.00,315.38 310.35,310.17 310.70,307.69 311.05,308.99 311.40,313.18 311.75,318.96 312.10,325.01 312.45,330.04 312.80,332.74 313.15,331.92 313.50,327.90 313.85,321.95 314.20,315.35 314.55,309.40 314.90,305.38 315.25,304.55 315.60,307.10 315.95,311.92 316.30,317.83 316.65,323.66 317.00,328.23 317.35,330.36 317.70,329.38 318.05,326.11 318.40,321.39 318.75,316.07 319.10,310.99 319.45,306.99 319.80,304.92 320.15,305.37 320.50,307.77 320.85,311.51 321.20,315.98 321.55,320.58 321.90,324.70 322.25,327.75 322.60,329.13 322.95,328.90 323.30,328.10 323.65,326.95 324.00,325.65 324.35,324.41 324.70,323.43 325.05,322.93 325.40,323.39 325.75,325.44 326.10,328.56 326.45,332.17 326.80,335.71 327.15,338.58 327.50,340.22 327.85,340.33 328.20,339.94 328.55,339.29 328.90,338.52 329.25,337.76 329.60,337.11 329.95,336.72 330.30,336.69 330.65,337.09 331.00,337.79 331.35,338.65 331.70,339.53 332.05,340.28 332.40,340.78 332.75,340.88 333.10,340.55 333.45,339.89 333.80,339.00 334.15,338.00 334.50,336.98 334.85,336.04 335.20,335.31 335.55,334.87 335.90,334.86 336.25,335.36 336.60,336.22 336.95,337.21 337.30,338.12 337.65,338.75 338.00,338.87 338.35,338.41 338.70,337.53 339.05,336.45 339.40,335.38 339.75,334.55 340.10,334.16 340.45,334.29 340.80,334.75 341.15,335.47 341.50,336.37 341.85,337.38 342.20,338.42 342.55,339.43 342.90,340.33 343.25,341.05 343.60,341.51 343.95,341.65 344.30,341.54 344.65,341.29 345.00,340.95 345.35,340.55 345.70,340.13 346.05,339.75 346.40,339.43 346.75,339.21 347.10,339.16 347.45,339.45 347.80,340.05 348.15,340.75 348.50,341.35 348.85,341.64 349.20,341.56 349.55,341.25 349.90,340.77 350.25,340.17 350.60,339.50 350.95,338.80 351.30,338.13 351.65,337.53 352.00,337.05 352.35,336.74 352.70,336.65 353.05,336.87 353.40,337.33 353.75,337.94 354.10,338.60 354.45,339.20 354.80,339.63 355.15,339.80 355.50,339.67 355.85,339.32 356.20,338.85 356.55,338.33 356.90,337.84 357.25,337.47 357.60,337.30 357.95,337.40 358.30,337.72 358.65,338.21 359.00,338.79 359.35,339.42 359.70,340.01 360.05,340.52 360.40,340.87 360.75,341.00 361.10,340.80 361.45,340.29 361.80,339.59 362.15,338.82 362.50,338.10 362.85,337.55 363.20,337.30 363.55,337.50 363.90,338.14 364.25,339.06 364.60,340.10 364.95,341.09 365.30,341.87 365.65,342.28 366.00,342.11 366.35,341.30 366.70,340.07 367.05,338.64 367.40,337.25 367.75,336.12 368.10,335.47 368.45,335.51 368.80,336.14 369.15,337.18 369.50,338.42 369.85,339.68 370.20,340.76 370.55,341.48 370.90,341.70 371.25,341.81 371.60,341.91 371.95,341.99 372.30,342.07 372.65,342.14 373.00,342.19 373.35,342.23 373.70,342.27 374.05,342.29 374.40,342.30 374.75,342.27 375.10,342.05 375.45,341.69 375.80,341.20 376.15,340.65 376.50,340.05 376.85,339.47 377.20,338.90 377.55,338.17 377.90,337.30 378.25,336.37 378.60,335.46 378.95,334.64 379.30,333.99 379.65,333.59 380.00,333.54 380.35,334.14 380.70,335.26 381.05,336.62 381.40,337.91 381.75,338.85 382.10,339.14 382.45,338.38 382.80,336.69 383.15,334.39 383.50,331.79 383.85,329.21 384.20,326.97 384.55,325.40 384.90,324.80 385.25,325.24 385.60,326.41 385.95,328.06 386.30,329.94 386.65,331.79 387.00,333.39 387.35,334.47 387.70,334.79 388.05,334.14 388.40,332.66 388.75,330.55 389.10,328.04 389.45,325.34 389.80,322.67 390.15,320.25 390.50,318.30 390.85,317.03 391.20,316.67 391.55,317.55 391.90,319.51 392.25,322.16 392.60,325.11 392.95,327.99 393.30,330.39 393.65,331.94 394.00,332.24 394.35,331.18 394.70,329.10 395.05,326.38 395.40,323.41 395.75,320.58 396.10,318.28 396.45,316.89 396.80,316.81 397.15,318.28 397.50,320.85 397.85,324.01 398.20,327.24 398.55,330.03 398.90,331.86 399.25,332.23 399.60,331.00 399.95,328.57 400.30,325.36 400.65,321.78 401.00,318.27 401.35,315.23 401.70,313.10 402.05,312.30 402.40,312.90 402.75,314.47 403.10,316.71 403.45,319.29 403.80,321.89 404.15,324.19 404.50,325.88 404.85,326.64 405.20,325.86 405.55,323.30 405.90,319.51 406.25,315.10 406.60,310.64 406.95,306.73 407.30,303.96 407.65,302.90 408.00,303.73 408.35,305.93 408.70,309.01 409.05,312.53 409.40,316.02 409.75,319.00 410.10,321.03 410.45,321.63 410.80,320.65 411.15,318.44 411.50,315.43 411.85,312.03 412.20,308.66 412.55,305.74 412.90,303.68 413.25,302.90 413.60,303.97 413.95,306.73 414.30,310.52 414.65,314.69 415.00,318.58 415.35,321.53 415.70,322.88 416.05,322.22 416.40,320.02 416.75,316.79 417.10,313.05 417.45,309.31 417.80,306.08 418.15,303.88 418.50,303.24 418.85,305.45 419.20,310.23 419.55,316.44 419.90,322.94 420.25,328.59 420.60,332.23 420.95,333.32 421.30,333.90 421.65,334.32 422.00,334.67 422.35,335.03 422.70,335.47 423.05,335.99 423.40,336.53 423.75,337.10 424.10,337.65 424.45,338.19 424.80,338.70 425.15,339.15 425.50,339.59 425.85,340.06 426.20,340.53 426.55,340.95 426.90,341.30 427.25,341.54 427.60,341.65 427.95,341.65 428.30,341.65 428.65,341.65 429.00,341.65 429.35,341.65 429.70,341.65 430.05,341.65 430.40,341.65 430.75,341.65 431.10,341.65 431.45,341.65 431.80,341.87 432.15,342.35 432.50,342.98 432.85,343.68 433.20,344.33 433.55,344.84 433.90,345.10 434.25,345.20 434.60,345.30 434.95,345.38 435.30,345.45 435.65,345.52 436.00,345.58 436.35,345.62 436.70,345.66 437.05,345.68 437.40,345.70 437.75,345.70 438.10,345.64 438.45,345.53 438.80,345.36 439.15,345.15 439.50,344.90 439.85,344.62 440.20,344.32 440.55,344.00 440.90,343.68 441.25,343.37 441.60,343.06 441.95,342.78 442.30,342.52 442.65,342.30 443.00,342.11 443.35,341.95 443.70,341.81 444.05,341.67 444.40,341.54 444.75,341.40 445.10,341.25 445.45,341.07 445.80,340.86 446.15,340.61 446.50,340.29 446.85,339.60 447.20,338.56 447.55,337.35 447.90,336.14 448.25,335.09 448.60,334.37 448.95,334.15 449.30,334.41 449.65,334.96 450.00,335.69 450.35,336.47 450.70,337.18 451.05,337.70 451.40,337.90 451.75,337.51 452.10,336.49 452.45,335.05 452.80,333.41 453.15,331.78 453.50,330.39 453.85,329.44 454.20,329.16 454.55,329.78 454.90,331.09 455.25,332.78 455.60,334.48 455.95,335.87 456.30,336.61 456.65,336.53 457.00,336.04 457.35,335.27 457.70,334.35 458.05,333.41 458.40,332.56 458.75,331.94 459.10,331.65 459.45,331.84 459.80,332.45 460.15,333.37 460.50,334.45 460.85,335.58 461.20,336.60 461.55,337.41 461.90,337.85 462.25,337.83 462.60,337.39 462.95,336.63 463.30,335.64 463.65,334.53 464.00,333.37 464.35,332.25 464.70,331.29 465.05,330.55 465.40,330.05 465.75,329.55 466.10,329.08 466.45,328.66 466.80,328.30 467.15,328.05 467.50,327.91 467.85,327.92 468.20,328.05 468.55,328.27 468.90,328.52 469.25,328.78 469.60,329.00 469.95,329.13 470.30,329.06 470.65,328.29 471.00,327.04 471.35,325.69 471.70,324.60 472.05,324.15 472.40,324.62 472.75,325.82 473.10,327.48 473.45,329.31 473.80,331.01 474.15,332.30 474.50,332.89 474.85,332.41 475.20,330.94 475.55,329.03 475.90,327.24 476.25,326.13 476.60,326.18 476.95,327.26 477.30,329.04 477.65,331.24 478.00,333.54 478.35,335.66 478.70,337.30 479.05,338.24 479.40,339.02 479.75,339.75 480.10,340.40 480.45,340.95 480.80,341.36 481.15,341.60 481.50,341.64 481.85,341.50 482.20,341.21 482.55,340.81 482.90,340.33 483.25,339.81 483.60,339.29 483.95,338.81 484.30,338.39 484.65,338.08 485.00,337.92 485.35,337.90 485.70,337.94 486.05,337.99 486.40,338.07 486.75,338.17 487.10,338.29 487.45,338.42 487.80,338.57 488.15,338.84 488.50,339.22 488.85,339.69 489.20,340.20 489.55,340.75 489.90,341.28 490.25,341.80 490.60,342.43 490.95,343.15 491.30,343.91 491.65,344.61 492.00,345.20 492.35,345.58 492.70,345.70 493.05,345.69 493.40,345.66 493.75,345.61 494.10,345.55 494.45,345.48 494.80,345.39 495.15,345.30 495.50,345.19 495.85,345.08 496.20,344.96 496.55,344.84 496.90,344.72 497.25,344.59 497.60,344.47 497.95,344.32 498.30,344.12 498.65,343.88 499.00,343.62 499.35,343.34 499.70,343.08 500.05,342.82 500.40,342.61 500.75,342.44 501.10,342.33 501.45,342.30 501.80,342.48 502.15,342.86 502.50,343.37 502.85,343.93 503.20,344.46 503.55,344.87 503.90,345.10 504.25,345.20 504.60,345.29 504.95,345.38 505.30,345.45 505.65,345.52 506.00,345.57 506.35,345.62 506.70,345.66 507.05,345.68 507.40,345.70 507.75,345.70 508.10,345.69 508.45,345.67 508.80,345.63 509.15,345.58 509.50,345.52 509.85,345.45 510.20,345.37 510.55,345.27 510.90,345.16 511.25,345.04 511.60,344.91 511.95,344.77 512.30,344.62 512.65,344.45 513.00,344.15 513.35,343.64 513.70,342.95 514.05,342.12 514.40,341.21 514.75,340.25 515.10,339.29 515.45,338.12 515.80,336.53 516.15,334.85 516.50,333.38 516.85,332.46 517.20,332.33 517.55,332.62 517.90,333.13 518.25,333.76 518.60,334.40 518.95,334.95 519.30,335.31 519.65,335.38 520.00,335.08 520.35,334.49 520.70,333.75 521.05,332.97 521.40,332.28 521.75,331.80 522.10,331.65 522.45,331.94 522.80,332.57 523.15,333.45 523.50,334.47 523.85,335.52 524.20,336.50 524.55,337.29 524.90,337.78 525.25,337.89 525.60,337.75 525.95,337.46 526.30,337.06 526.65,336.58 527.00,336.06 527.35,335.54 527.70,335.06 528.05,334.64 528.40,334.33 528.75,334.17 529.10,334.24 529.45,334.77 529.80,335.63 530.15,336.65 530.50,337.67 530.85,338.53 531.20,339.06 531.55,339.12 531.90,338.89 532.25,338.48 532.60,337.97 532.95,337.46 533.30,337.01 533.65,336.72 534.00,336.66 534.35,336.75 534.70,336.94 535.05,337.21 535.40,337.53 535.75,337.88 536.10,338.22 536.45,338.55 536.80,338.82 537.15,339.03 537.50,339.14 537.85,339.04 538.20,338.36 538.55,337.24 538.90,335.85 539.25,334.39 539.60,333.03 539.95,331.96 540.30,331.37 540.65,331.51 541.00,332.68 541.35,334.35 541.70,335.93 542.05,336.84 542.40,336.85 542.75,336.64 543.10,336.31 543.45,335.90 543.80,335.46 544.15,335.05 544.50,334.70 544.85,334.47 545.20,334.41 545.55,335.14 545.90,336.73 546.25,338.83 546.60,341.08 546.95,343.13 547.30,344.62 547.65,345.20 548.00,345.20 548.35,345.20 548.70,345.20 549.05,345.20 549.40,345.20 549.75,345.20 550.10,345.20 550.45,345.20 550.80,345.20 551.15,345.20 551.50,345.20 551.85,345.20 552.20,345.20 552.55,345.12 552.90,344.94 553.25,344.68 553.60,344.36 553.95,344.01 554.30,343.64 554.65,343.29 555.00,342.96 555.35,342.69 555.70,342.50 556.05,342.41 556.40,342.42 556.75,342.51 557.10,342.66 557.45,342.85 557.80,343.07 558.15,343.30 558.50,343.53 558.85,343.75 559.20,343.94 559.55,344.09 559.90,344.18 560.25,344.20 560.60,344.17 560.95,344.12 561.30,344.04 561.65,343.93 562.00,343.80 562.35,343.65 562.70,343.48 563.05,343.29 563.40,343.09 563.75,342.87 564.10,342.64 564.45,342.40 564.80,342.15 565.15,341.90 565.50,341.52 565.85,340.96 566.20,340.31 566.55,339.64 566.90,339.04 567.25,338.60 567.60,338.40 567.95,338.74 568.30,339.80 568.65,341.23 569.00,342.68 569.35,343.79 569.70,344.21 570.05,344.30 570.40,344.38 570.75,344.45 571.10,344.51 571.45,344.56 571.80,344.61 572.15,344.64 572.50,344.67 572.85,344.69 573.20,344.70 573.55,344.70"/>
<polyline stroke="#ED5E93" points="70.25,346.50 70.60,346.50 70.95,346.50 71.30,346.50 71.65,346.50 72.00,346.50 72.35,346.50 72.70,346.50 73.05,346.50 73.40,346.50 73.75,346.50 74.10,346.50 74.45,346.50 74.80,346.50 75.15,346.50 75.50,346.50 75.85,346.50 76.20,346.50 76.55,346.50 76.90,346.50 77.25,346.50 77.60,346.50 77.95,346.50 78.30,346.50 78.65,346.50 79.00,346.50 79.35,346.50 79.70,346.50 80.05,346.50 80.40,346.50 80.75,346.50 81.10,346.50 81.45,346.50 81.80,346.50 82.15,346.50 82.50,346.50 82.85,346.50 83.20,346.50 83.55,346.50 83.90,346.50 84.25,346.50 84.60,346.50 84.95,346.50 85.30,346.50 85.65,346.50 86.00,346.50 86.35,346.50 86.70,346.50 87.05,346.50 87.40,346.50 87.75,346.50 88.10,346.50 88.45,346.50 88.80,346.50 89.15,346.50 89.50,346.50 89.85,346.50 90.20,346.50 90.55,346.50 90.90,346.50 91.25,346.50 91.60,346.50 91.95,346.50 92.30,346.50 92.65,346.50 93.00,346.50 93.35,346.50 93.70,346.50 94.05,346.50 94.40,346.50 94.75,346.49 95.10,346.49 95.45,346.49 95.80,346.49 96.15,346.49 96.50,346.49 96.85,346.49 97.20,346.49 97.55,346.49 97.90,346.49 98.25,346.49 98.60,346.49 98.95,346.49 99.30,346.49 99.65,346.49 100.00,346.49 100.35,346.49 100.70,346.49 101.05,346.49 101.40,346.49 101.75,346.49 102.10,346.49 102.45,346.49 102.80,346.49 103.15,346.49 103.50,346.49 103.85,346.49 104.20,346.49 104.55,346.49 104.90,346.49 105.25,346.49 105.60,346.49 105.95,346.49 106.30,346.49 106.65,346.49 107.00,346.49 107.35,346.49 107.70,346.49 108.05,346.49 108.40,346.49 108.75,346.49 109.10,346.49 109.45,346.48 109.80,346.48 110.15,346.48 110.50,346.48 110.85,346.48 111.20,346.48 111.55,346.48 111.90,346.48 112.25,346.48 112.60,346.48 112.95,346.48 113.30,346.48 113.65,346.48 114.00,346.48 114.35,346.48 114.70,346.48 115.05,346.48 115.40,346.48 115.75,346.48 116.10,346.48 116.45,346.48 116.80,346.48 117.15,346.48 117.50,346.48 117.85,346.48 118.20,346.48 118.55,346.48 118.90,346.47 119.25,346.47 119.60,346.47 119.95,346.47 120.30,346.47 120.65,346.47 121.00,346.47 121.35,346.47 121.70,346.47 122.05,346.47 122.40,346.47 122.75,346.47 123.10,346.47 123.45,346.47 123.80,346.47 124.15,346.47 124.50,346.47 124.85,346.47 125.20,346.47 125.55,346.47 125.90,346.47 126.25,346.46 126.60,346.46 126.95,346.46 127.30,346.46 127.65,346.46 128.00,346.46 128.35,346.46 128.70,346.46 129.05,346.46 129.40,346.46 129.75,346.46 130.10,346.46 130.45,346.46 130.80,346.46 131.15,346.46 131.50,346.46 131.85,346.46 132.20,346.45 132.55,346.45 132.90,346.45 133.25,346.45 133.60,346.45 133.95,346.45 134.30,346.45 134.65,346.45 135.00,346.45 135.35,346.45 135.70,346.45 136.05,346.45 136.40,346.45 136.75,346.45 137.10,346.45 137.45,346.44 137.80,346.44 138.15,346.44 138.50,346.44 138.85,346.44 139.20,346.44 139.55,346.44 139.90,346.44 140.25,346.44 140.60,346.44 140.95,346.44 141.30,346.44 141.65,346.44 142.00,346.43 142.35,346.43 142.70,346.43 143.05,346.43 143.40,346.43 143.75,346.43 144.10,346.43 144.45,346.43 144.80,346.43 145.15,346.43 145.50,346.43 145.85,346.43 146.20,346.42 146.55,346.42 146.90,346.42 147.25,346.42 147.60,346.42 147.95,346.42 148.30,346.42 148.65,346.42 149.00,346.42 149.35,346.42 149.70,346.42 150.05,346.41 150.40,346.41 150.75,346.41 151.10,346.41 151.45,346.41 151.80,346.41 152.15,346.41 152.50,346.41 152.85,346.41 153.20,346.41 153.55,346.40 153.90,346.40 154.25,346.40 154.60,346.40 154.95,346.40 155.30,346.40 155.65,346.40 156.00,346.40 156.35,346.39 156.70,346.39 157.05,346.39 157.40,346.38 157.75,346.38 158.10,346.37 158.45,346.37 158.80,346.36 159.15,346.35 159.50,346.34 159.85,346.33 160.20,346.32 160.55,346.31 160.90,346.30 161.25,346.29 161.60,346.27 161.95,346.26 162.30,346.24 162.65,346.23 163.00,346.21 163.35,346.19 163.70,346.14 164.05,346.07 164.40,345.98 164.75,345.86 165.10,345.72 165.45,345.34 165.80,344.50 166.15,343.44 166.50,342.40 166.85,341.64 167.20,341.41 167.55,341.69 167.90,342.29 168.25,343.01 168.60,343.68 168.95,344.12 169.30,344.14 169.65,343.63 170.00,342.72 170.35,341.61 170.70,340.48 171.05,339.50 171.40,338.85 171.75,338.74 172.10,339.36 172.45,340.45 172.80,341.65 173.15,342.59 173.50,342.89 173.85,342.18 174.20,340.68 174.55,338.83 174.90,337.03 175.25,335.72 175.60,335.32 175.95,336.36 176.30,338.46 176.65,340.88 177.00,342.87 177.35,343.70 177.70,342.58 178.05,339.94 178.40,336.83 178.75,334.34 179.10,333.53 179.45,335.25 179.80,338.58 180.15,342.10 180.50,344.42 180.85,344.27 181.20,342.02 181.55,339.00 181.90,336.55 182.25,336.02 182.60,337.91 182.95,341.01 183.30,343.92 183.65,345.20 184.00,343.99 184.35,341.24 184.70,338.30 185.05,336.51 185.40,336.86 185.75,338.68 186.10,341.17 186.45,343.54 186.80,345.03 187.15,344.88 187.50,343.16 187.85,340.68 188.20,338.34 188.55,336.98 188.90,337.44 189.25,339.47 189.60,341.98 189.95,343.85 190.30,343.93 190.65,341.66 191.00,338.33 191.35,335.42 191.70,334.41 192.05,335.18 192.40,336.77 192.75,338.71 193.10,340.51 193.45,341.69 193.80,341.72 194.15,340.10 194.50,337.43 194.85,334.45 195.20,331.88 195.55,330.48 195.90,330.81 196.25,332.45 196.60,334.79 196.95,337.22 197.30,339.13 197.65,339.90 198.00,339.12 198.35,337.15 198.70,334.54 199.05,331.86 199.40,329.65 199.75,328.47 200.10,328.71 200.45,329.99 200.80,331.83 201.15,333.80 201.50,335.46 201.85,336.35 202.20,336.10 202.55,334.85 202.90,333.01 203.25,331.00 203.60,329.23 203.95,328.10 204.30,328.02 204.65,329.08 205.00,330.89 205.35,333.01 205.70,335.01 206.05,336.44 206.40,336.89 206.75,336.54 207.10,335.78 207.45,334.80 207.80,333.79 208.15,332.95 208.50,332.45 208.85,332.52 209.20,333.21 209.55,334.32 209.90,335.65 210.25,336.98 210.60,338.09 210.95,338.78 211.30,338.86 211.65,338.49 212.00,337.84 212.35,337.02 212.70,336.15 213.05,335.35 213.40,334.73 213.75,334.42 214.10,334.52 214.45,335.05 214.80,335.87 215.15,336.86 215.50,337.88 215.85,338.81 216.20,339.52 216.55,339.88 216.90,339.83 217.25,339.54 217.60,339.09 217.95,338.58 218.30,338.07 218.65,337.66 219.00,337.43 219.35,337.46 219.70,337.80 220.05,338.37 220.40,339.09 220.75,339.87 221.10,340.63 221.45,341.28 221.80,341.73 222.15,341.90 222.50,341.73 222.85,341.27 223.20,340.63 223.55,339.90 223.90,339.17 224.25,338.52 224.60,338.07 224.95,337.90 225.30,337.97 225.65,338.15 226.00,338.40 226.35,338.71 226.70,339.04 227.05,339.35 227.40,339.62 227.75,339.81 228.10,339.90 228.45,339.76 228.80,339.30 229.15,338.60 229.50,337.77 229.85,336.90 230.20,336.09 230.55,335.42 230.90,335.00 231.25,334.91 231.60,335.07 231.95,335.38 232.30,335.78 232.65,336.20 233.00,336.56 233.35,336.82 233.70,336.89 234.05,336.18 234.40,334.65 234.75,332.69 235.10,330.68 235.45,328.99 235.80,328.01 236.15,328.36 236.50,330.86 236.85,334.43 237.20,337.82 237.55,339.78 237.90,339.75 238.25,339.20 238.60,338.51 238.95,338.00 239.30,338.02 239.65,339.04 240.00,340.73 240.35,342.63 240.70,344.26 241.05,345.15 241.40,345.15 241.75,344.94 242.10,344.59 242.45,344.13 242.80,343.61 243.15,343.05 243.50,342.49 243.85,341.97 244.20,341.51 244.55,341.16 244.90,340.95 245.25,340.95 245.60,341.72 245.95,342.99 246.30,344.18 246.65,344.70 247.00,344.67 247.35,344.58 247.70,344.45 248.05,344.29 248.40,344.10 248.75,343.89 249.10,343.68 249.45,343.48 249.80,343.29 250.15,343.13 250.50,343.00 250.85,342.92 251.20,342.90 251.55,342.99 251.90,343.18 252.25,343.45 252.60,343.76 252.95,344.07 253.30,344.35 253.65,344.57 254.00,344.69 254.35,344.69 254.70,344.61 255.05,344.48 255.40,344.32 255.75,344.15 256.10,343.98 256.45,343.84 256.80,343.74 257.15,343.70 257.50,343.76 257.85,343.91 258.20,344.12 258.55,344.38 258.90,344.64 259.25,344.88 259.60,345.07 259.95,345.18 260.30,345.20 260.65,345.18 261.00,345.13 261.35,345.08 261.70,345.01 262.05,344.93 262.40,344.85 262.75,344.78 263.10,344.71 263.45,344.64 263.80,344.56 264.15,344.48 264.50,344.39 264.85,344.30 265.20,344.20 265.55,344.11 265.90,344.02 266.25,343.94 266.60,343.87 266.95,343.81 267.30,343.76 267.65,343.72 268.00,343.70 268.35,343.71 268.70,343.77 269.05,343.87 269.40,344.00 269.75,344.17 270.10,344.34 270.45,344.53 270.80,344.71 271.15,344.87 271.50,345.02 271.85,345.13 272.20,345.21 272.55,345.26 272.90,345.31 273.25,345.35 273.60,345.38 273.95,345.42 274.30,345.45 274.65,345.48 275.00,345.51 275.35,345.53 275.70,345.56 276.05,345.59 276.40,345.62 276.75,345.66 277.10,345.69 277.45,345.74 277.80,345.79 278.15,345.85 278.50,345.92 278.85,345.98 279.20,346.05 279.55,346.11 279.90,346.17 280.25,346.22 280.60,346.26 280.95,346.29 281.30,346.30 281.65,346.29 282.00,346.27 282.35,346.22 282.70,346.15 283.05,346.06 283.40,345.96 283.75,345.84 284.10,345.70 284.45,345.54 284.80,345.38 285.15,345.19 285.50,345.00 285.85,344.79 286.20,344.58 286.55,344.34 286.90,343.98 287.25,343.50 287.60,342.93 287.95,342.28 288.30,341.60 288.65,340.90 289.00,340.20 289.35,339.50 289.70,338.77 290.05,337.99 290.40,337.14 290.75,336.20 291.10,335.15 291.45,333.96 291.80,332.14 292.15,329.68 292.50,326.98 292.85,324.45 293.20,322.47 293.55,321.46 293.90,322.24 294.25,325.59 294.60,330.28 294.95,334.96 295.30,338.31 295.65,339.03 296.00,336.94 296.35,333.06 296.70,328.44 297.05,324.12 297.40,321.13 297.75,320.55 298.10,323.06 298.45,327.57 298.80,332.69 299.15,337.01 299.50,339.11 299.85,337.90 300.20,334.12 300.55,329.20 300.90,324.59 301.25,321.73 301.60,322.06 301.95,325.71 302.30,331.11 302.65,336.64 303.00,340.64 303.35,341.59 303.70,340.59 304.05,338.78 304.40,336.73 304.75,335.01 305.10,334.17 305.45,334.56 305.80,335.88 306.15,337.78 306.50,339.92 306.85,341.96 307.20,343.57 307.55,344.40 307.90,344.26 308.25,343.44 308.60,342.11 308.95,340.39 309.30,338.44 309.65,336.39 310.00,334.40 310.35,332.60 310.70,331.14 311.05,330.16 311.40,329.80 311.75,330.79 312.10,333.20 312.45,336.17 312.80,338.82 313.15,340.31 313.50,340.07 313.85,338.67 314.20,336.55 314.55,334.09 314.90,331.69 315.25,329.74 315.60,328.62 315.95,328.87 316.30,330.91 316.65,333.98 317.00,337.17 317.35,339.60 317.70,340.38 318.05,339.31 318.40,337.00 318.75,334.07 319.10,331.09 319.45,328.66 319.80,327.38 320.15,327.89 320.50,330.18 320.85,333.28 321.20,336.16 321.55,337.80 321.90,337.70 322.25,336.92 322.60,335.92 322.95,335.09 323.30,334.80 323.65,334.93 324.00,335.22 324.35,335.63 324.70,336.11 325.05,336.62 325.40,337.11 325.75,337.54 326.10,337.86 326.45,338.09 326.80,338.31 327.15,338.50 327.50,338.69 327.85,338.86 328.20,339.02 328.55,339.17 328.90,339.31 329.25,339.45 329.60,339.59 329.95,339.72 330.30,339.86 330.65,339.99 331.00,340.12 331.35,340.24 331.70,340.36 332.05,340.48 332.40,340.59 332.75,340.70 333.10,340.80 333.45,340.89 333.80,340.98 334.15,341.05 334.50,341.12 334.85,341.19 335.20,341.25 335.55,341.30 335.90,341.35 336.25,341.41 336.60,341.46 336.95,341.52 337.30,341.58 337.65,341.65 338.00,341.73 338.35,341.82 338.70,341.93 339.05,342.04 339.40,342.15 339.75,342.27 340.10,342.39 340.45,342.50 340.80,342.60 341.15,342.69 341.50,342.77 341.85,342.84 342.20,342.88 342.55,342.90 342.90,342.85 343.25,342.62 343.60,342.29 343.95,341.89 344.30,341.51 344.65,341.20 345.00,341.02 345.35,341.03 345.70,341.22 346.05,341.56 346.40,342.00 346.75,342.51 347.10,343.06 347.45,343.61 347.80,344.13 348.15,344.57 348.50,344.90 348.85,345.09 349.20,345.16 349.55,345.23 349.90,345.29 350.25,345.34 350.60,345.38 350.95,345.42 351.30,345.46 351.65,345.49 352.00,345.52 352.35,345.55 352.70,345.58 353.05,345.61 353.40,345.64 353.75,345.68 354.10,345.72 354.45,345.77 354.80,345.82 355.15,345.88 355.50,345.93 355.85,345.99 356.20,346.04 356.55,346.10 356.90,346.15 357.25,346.19 357.60,346.23 357.95,346.26 358.30,346.28 358.65,346.30 359.00,346.29 359.35,346.15 359.70,345.85 360.05,345.43 360.40,344.91 360.75,344.34 361.10,343.75 361.45,343.16 361.80,342.61 362.15,342.14 362.50,341.77 362.85,341.51 363.20,341.26 363.55,341.03 363.90,340.81 364.25,340.63 364.60,340.49 364.95,340.41 365.30,340.45 365.65,340.95 366.00,341.82 366.35,342.89 366.70,343.99 367.05,344.93 367.40,345.55 367.75,345.70 368.10,345.62 368.45,345.48 368.80,345.27 369.15,345.03 369.50,344.77 369.85,344.51 370.20,344.26 370.55,344.05 370.90,343.89 371.25,343.81 371.60,343.81 371.95,343.85 372.30,343.94 372.65,344.06 373.00,344.21 373.35,344.38 373.70,344.57 374.05,344.77 374.40,344.98 374.75,345.18 375.10,345.39 375.45,345.59 375.80,345.77 376.15,345.94 376.50,346.08 376.85,346.19 377.20,346.26 377.55,346.30 377.90,346.30 378.25,346.28 378.60,346.25 378.95,346.21 379.30,346.15 379.65,346.09 380.00,346.01 380.35,345.92 380.70,345.82 381.05,345.71 381.40,345.59 381.75,345.46 382.10,345.33 382.45,345.19 382.80,345.01 383.15,344.65 383.50,344.10 383.85,343.42 384.20,342.66 384.55,341.87 384.90,341.09 385.25,340.38 385.60,339.79 385.95,339.37 386.30,339.16 386.65,339.18 387.00,339.32 387.35,339.55 387.70,339.84 388.05,340.18 388.40,340.52 388.75,340.86 389.10,341.17 389.45,341.42 389.80,341.59 390.15,341.65 390.50,341.61 390.85,341.48 391.20,341.29 391.55,341.05 391.90,340.76 392.25,340.45 392.60,340.12 392.95,339.79 393.30,339.47 393.65,339.18 394.00,338.92 394.35,338.72 394.70,338.57 395.05,338.50 395.40,338.55 395.75,338.76 396.10,339.11 396.45,339.55 396.80,340.06 397.15,340.59 397.50,341.11 397.85,341.57 398.20,341.95 398.55,342.21 398.90,342.30 399.25,342.17 399.60,341.79 399.95,341.20 400.30,340.46 400.65,339.59 401.00,338.63 401.35,337.63 401.70,336.62 402.05,335.64 402.40,334.73 402.75,333.92 403.10,333.04 403.45,332.05 403.80,331.02 404.15,330.01 404.50,329.08 404.85,328.29 405.20,327.69 405.55,327.36 405.90,327.35 406.25,327.75 406.60,328.47 406.95,329.34 407.30,330.24 407.65,331.02 408.00,331.53 408.35,331.56 408.70,329.94 409.05,326.82 409.40,322.85 409.75,318.69 410.10,315.00 410.45,312.44 410.80,311.66 411.15,312.51 411.50,314.35 411.85,316.78 412.20,319.39 412.55,321.76 412.90,323.48 413.25,324.15 413.60,323.79 413.95,322.86 414.30,321.55 414.65,320.06 415.00,318.60 415.35,317.38 415.70,316.59 416.05,316.44 416.40,317.24 416.75,318.84 417.10,321.03 417.45,323.58 417.80,326.25 418.15,328.82 418.50,331.05 418.85,332.72 419.20,333.87 419.55,334.88 419.90,335.78 420.25,336.61 420.60,337.39 420.95,338.15 421.30,338.92 421.65,339.76 422.00,340.71 422.35,341.70 422.70,342.65 423.05,343.47 423.40,344.08 423.75,344.41 424.10,344.35 424.45,343.72 424.80,342.66 425.15,341.31 425.50,339.82 425.85,338.34 426.20,337.02 426.55,336.01 426.90,335.46 427.25,335.52 427.60,336.20 427.95,337.20 428.30,338.22 428.65,338.96 429.00,339.11 429.35,338.36 429.70,336.84 430.05,334.81 430.40,332.49 430.75,330.11 431.10,327.93 431.45,326.16 431.80,325.06 432.15,324.88 432.50,326.19 432.85,328.53 433.20,331.15 433.55,333.27 433.90,334.15 434.25,333.04 434.60,330.34 434.95,327.03 435.30,324.06 435.65,322.40 436.00,322.80 436.35,324.80 436.70,327.60 437.05,330.40 437.40,332.40 437.75,332.86 438.10,332.19 438.45,330.99 438.80,329.62 439.15,328.47 439.50,327.91 439.85,328.30 440.20,329.58 440.55,331.42 440.90,333.50 441.25,335.48 441.60,337.04 441.95,337.85 442.30,337.70 442.65,336.86 443.00,335.52 443.35,333.87 443.70,332.09 444.05,330.36 444.40,328.86 444.75,327.78 445.10,327.31 445.45,327.69 445.80,328.94 446.15,330.68 446.50,332.55 446.85,334.18 447.20,335.22 447.55,335.30 447.90,334.45 448.25,333.02 448.60,331.35 448.95,329.81 449.30,328.76 449.65,328.54 450.00,329.30 450.35,330.77 450.70,332.64 451.05,334.59 451.40,336.32 451.75,337.53 452.10,337.89 452.45,337.34 452.80,336.15 453.15,334.58 453.50,332.89 453.85,331.35 454.20,330.23 454.55,329.80 454.90,330.30 455.25,331.59 455.60,333.36 455.95,335.31 456.30,337.13 456.65,338.51 457.00,339.14 457.35,338.85 457.70,337.89 458.05,336.51 458.40,334.95 458.75,333.46 459.10,332.29 459.45,331.69 459.80,331.82 460.15,332.56 460.50,333.67 460.85,334.96 461.20,336.22 461.55,337.25 461.90,337.84 462.25,337.86 462.60,337.63 462.95,337.30 463.30,336.96 463.65,336.71 464.00,336.67 464.35,337.00 464.70,337.66 465.05,338.53 465.40,339.49 465.75,340.41 466.10,341.19 466.45,341.71 466.80,342.10 467.15,342.48 467.50,342.85 467.85,343.19 468.20,343.51 468.55,343.79 468.90,344.04 469.25,344.23 469.60,344.36 469.95,344.44 470.30,344.38 470.65,343.73 471.00,342.55 471.35,341.01 471.70,339.30 472.05,337.59 472.40,336.05 472.75,334.87 473.10,334.22 473.45,334.22 473.80,334.66 474.15,335.39 474.50,336.32 474.85,337.35 475.20,338.37 475.55,339.28 475.90,339.98 476.25,340.36 476.60,340.17 476.95,338.85 477.30,336.71 477.65,334.15 478.00,331.59 478.35,329.45 478.70,328.13 479.05,327.99 479.40,328.80 479.75,330.10 480.10,331.48 480.45,332.55 480.80,332.87 481.15,330.88 481.50,326.55 481.85,320.83 482.20,314.70 482.55,309.12 482.90,305.07 483.25,303.50 483.60,306.13 483.95,312.53 484.30,320.51 484.65,327.86 485.00,332.38 485.35,332.51 485.70,330.35 486.05,327.05 486.40,323.50 486.75,320.58 487.10,319.18 487.45,320.32 487.80,323.82 488.15,328.25 488.50,332.16 488.85,334.11 489.20,333.29 489.55,330.50 489.90,326.49 490.25,321.97 490.60,317.66 490.95,314.26 491.30,312.50 491.65,313.32 492.00,317.09 492.35,322.68 492.70,328.87 493.05,334.46 493.40,338.23 493.75,338.52 494.10,328.51 494.45,312.07 494.80,296.69 495.15,289.90 495.50,291.56 495.85,295.77 496.20,301.38 496.55,307.23 496.90,312.18 497.25,315.08 497.60,314.35 497.95,308.40 498.30,299.10 498.65,288.70 499.00,279.40 499.35,273.45 499.70,272.90 500.05,277.45 500.40,285.43 500.75,295.24 501.10,305.28 501.45,313.95 501.80,319.64 502.15,320.83 502.50,317.89 502.85,312.22 503.20,305.00 503.55,297.45 503.90,290.74 504.25,286.09 504.60,284.69 504.95,286.93 505.30,291.83 505.65,298.30 506.00,305.23 506.35,311.54 506.70,316.13 507.05,317.90 507.40,317.01 507.75,314.70 508.10,311.52 508.45,308.02 508.80,304.77 509.15,302.30 509.50,301.17 509.85,302.84 510.20,308.11 510.55,315.31 510.90,322.76 511.25,328.75 511.60,331.60 511.95,330.96 512.30,328.77 512.65,325.71 513.00,322.42 513.35,319.54 513.70,317.72 514.05,317.59 514.40,319.27 514.75,322.23 515.10,325.86 515.45,329.58 515.80,332.79 516.15,334.90 516.50,335.36 516.85,334.68 517.20,333.35 517.55,331.62 517.90,329.72 518.25,327.91 518.60,326.44 518.95,325.55 519.30,325.51 519.65,326.50 520.00,328.20 520.35,330.21 520.70,332.14 521.05,333.58 521.40,334.15 521.75,333.56 522.10,331.97 522.45,329.68 522.80,326.96 523.15,324.09 523.50,321.37 523.85,319.08 524.20,317.49 524.55,316.90 524.90,317.75 525.25,319.96 525.60,323.00 525.95,326.33 526.30,329.44 526.65,331.80 527.00,332.88 527.35,332.63 527.70,331.74 528.05,330.42 528.40,328.87 528.75,327.27 529.10,325.83 529.45,324.74 529.80,324.18 530.15,324.46 530.50,325.78 530.85,327.79 531.20,330.11 531.55,332.38 531.90,334.23 532.25,335.28 532.60,335.22 532.95,334.18 533.30,332.56 533.65,330.74 534.00,329.12 534.35,328.08 534.70,328.02 535.05,329.07 535.40,330.92 535.75,333.19 536.10,335.51 536.45,337.52 536.80,338.83 537.15,339.13 537.50,338.68 537.85,337.80 538.20,336.62 538.55,335.27 538.90,333.91 539.25,332.66 539.60,331.68 539.95,331.10 540.30,331.11 540.65,332.08 541.00,333.68 541.35,335.47 541.70,337.01 542.05,337.85 542.40,337.49 542.75,335.76 543.10,333.08 543.45,329.87 543.80,326.56 544.15,323.59 544.50,321.40 544.85,320.42 545.20,321.13 545.55,323.41 545.90,326.56 546.25,329.86 546.60,332.60 546.95,334.06 547.30,333.31 547.65,329.82 548.00,324.49 548.35,318.33 548.70,312.31 549.05,307.40 549.40,304.61 549.75,304.92 550.10,308.36 550.45,313.46 550.80,318.68 551.15,322.45 551.50,323.20 551.85,319.77 552.20,313.30 552.55,305.37 552.90,297.55 553.25,291.42 553.60,288.55 553.95,289.92 554.30,294.48 554.65,301.05 555.00,308.46 555.35,315.53 555.70,321.10 556.05,323.98 556.40,323.64 556.75,321.62 557.10,318.87 557.45,316.24 557.80,314.59 558.15,314.89 558.50,317.68 558.85,322.07 559.20,327.03 559.55,331.57 559.90,334.65 560.25,335.34 560.60,334.32 560.95,332.30 561.30,329.59 561.65,326.55 562.00,323.51 562.35,320.80 562.70,318.78 563.05,317.76 563.40,318.25 563.75,320.44 564.10,323.57 564.45,326.82 564.80,329.37 565.15,330.40 565.50,328.33 565.85,323.10 566.20,316.19 566.55,309.07 566.90,303.21 567.25,300.08 567.60,300.62 567.95,303.61 568.30,308.06 568.65,313.04 569.00,317.62 569.35,320.87 569.70,321.84 570.05,318.38 570.40,311.21 570.75,302.47 571.10,294.36 571.45,289.05 571.80,288.31 572.15,290.38 572.50,294.67 572.85,301.12 573.20,309.71 573.55,320.40"/>
</g>
<g class="axis">
<line x1="54.2" y1="355.5" x2="588.6" y2="355.5" style="stroke-width:1.05"/>
<line x1="55.0" y1="30.4" x2="55.0" y2="356.0" style="stroke-width:1.25"/>
<line x1="70.05" y1="355.5" x2="70.05" y2="350.8"/>
<line x1="204.50" y1="355.5" x2="204.50" y2="350.8"/>
<line x1="338.95" y1="355.5" x2="338.95" y2="350.8"/>
<line x1="473.40" y1="355.5" x2="473.40" y2="350.8"/>
<line x1="54.4" y1="346.50" x2="60.0" y2="346.50"/>
<line x1="54.4" y1="269.74" x2="60.0" y2="269.74"/>
<line x1="54.4" y1="192.98" x2="60.0" y2="192.98"/>
<line x1="54.4" y1="116.22" x2="60.0" y2="116.22"/>
<line x1="54.4" y1="39.46" x2="60.0" y2="39.46"/>
</g>
<text class="tick" x="70.05" y="371.3" text-anchor="middle">0</text>
<text class="tick" x="204.50" y="371.3" text-anchor="middle">50</text>
<text class="tick" x="338.95" y="371.3" text-anchor="middle">100</text>
<text class="tick" x="473.40" y="371.3" text-anchor="middle">150</text>
<text class="tick" x="46.8" y="350.80" text-anchor="end">0.0</text>
<text class="tick" x="46.8" y="274.04" text-anchor="end">0.2</text>
<text class="tick" x="46.8" y="197.28" text-anchor="end">0.4</text>
<text class="tick" x="46.8" y="120.52" text-anchor="end">0.6</text>
<text class="tick" x="46.8" y="43.76" text-anchor="end">0.8</text>
<text class="guide" x="321.7" y="392" text-anchor="middle">Time</text>
<text class="guide" transform="translate(15.8,194.2) rotate(-90)" text-anchor="middle">Energy</text>
<text class="title" x="321.45" y="17.7" text-anchor="middle">Energy Over Time for Modes 1, 3, 5, 7, 9, 11, 13</text>
<rect x="468" y="41.3" width="102.5" height="104.2" fill="#ffffff" stroke="#000" stroke-width="1.1"/>
<line x1="473.5" y1="54.50" x2="510" y2="54.50" stroke="#009AFA" stroke-width="1.1"/>
<text class="leg" x="514.2" y="58.80">Mode 1</text>
<line x1="473.5" y1="67.50" x2="510" y2="67.50" stroke="#E36F47" stroke-width="1.1"/>
<text class="leg" x="514.2" y="71.80">Mode 3</text>
<line x1="473.5" y1="80.50" x2="510" y2="80.50" stroke="#3EA44E" stroke-width="1.1"/>
<text class="leg" x="514.2" y="84.80">Mode 5</text>
<line x1="473.5" y1="93.50" x2="510" y2="93.50" stroke="#C371D2" stroke-width="1.1"/>
<text class="leg" x="514.2" y="97.80">Mode 7</text>
<line x1="473.5" y1="106.50" x2="510" y2="106.50" stroke="#AC8E18" stroke-width="1.1"/>
<text class="leg" x="514.2" y="110.80">Mode 9</text>
<line x1="473.5" y1="119.50" x2="510" y2="119.50" stroke="#00AAAE" stroke-width="1.1"/>
<text class="leg" x="514.2" y="123.80">Mode 11</text>
<line x1="473.5" y1="132.50" x2="510" y2="132.50" stroke="#ED5E93" stroke-width="1.1"/>
<text class="leg" x="514.2" y="136.80">Mode 13</text>
</svg>
</body>
</html>
